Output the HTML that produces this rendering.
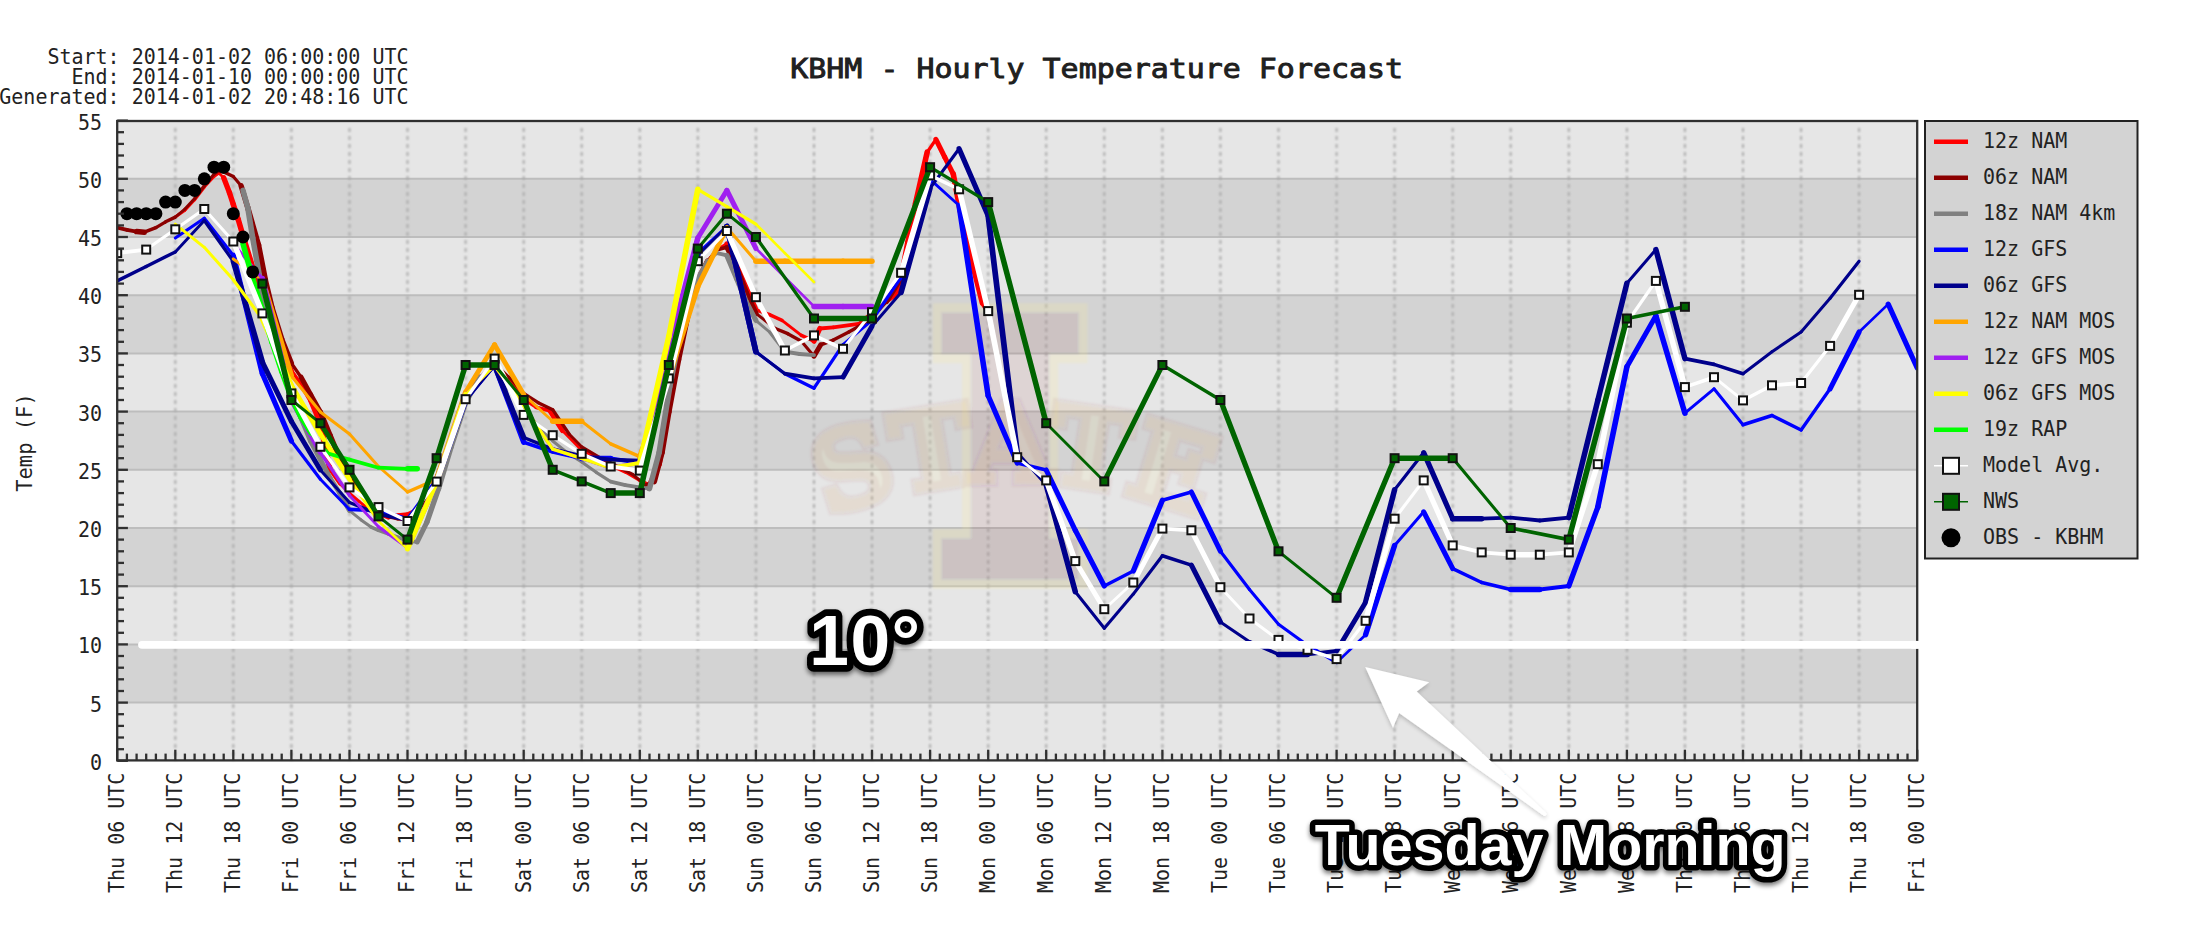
<!DOCTYPE html>
<html lang="en"><head><meta charset="utf-8"><title>KBHM - Hourly Temperature Forecast</title>
<style>
html,body{margin:0;padding:0;background:#fff;}
body{width:2194px;height:934px;overflow:hidden;}
svg{display:block;}
.m{font-family:"DejaVu Sans Mono","Liberation Mono",monospace;fill:#222;}
.s{font-family:"Liberation Sans",sans-serif;font-size:20px;fill:#111;}
.ann{font-family:"Liberation Sans",sans-serif;font-weight:bold;fill:#fff;stroke:#000;stroke-linejoin:round;paint-order:stroke fill;}
</style></head><body>
<svg width="2194" height="934" viewBox="0 0 2194 934">
<defs>
<filter id="sh" x="-10%" y="-20%" width="120%" height="150%"><feGaussianBlur in="SourceAlpha" stdDeviation="2.5"/><feOffset dx="0" dy="3" result="b"/><feComponentTransfer><feFuncA type="linear" slope="0.55"/></feComponentTransfer><feMerge><feMergeNode/><feMergeNode in="SourceGraphic"/></feMerge></filter>
<filter id="sh2" x="-20%" y="-20%" width="140%" height="150%"><feGaussianBlur in="SourceAlpha" stdDeviation="2"/><feOffset dx="0" dy="2" result="b"/><feComponentTransfer><feFuncA type="linear" slope="0.22"/></feComponentTransfer><feMerge><feMergeNode/><feMergeNode in="SourceGraphic"/></feMerge></filter>
<filter id="soft" x="-1%" y="-1%" width="102%" height="102%"><feGaussianBlur stdDeviation="0.8"/></filter>
<filter id="wm"><feGaussianBlur stdDeviation="1.2"/></filter>
<clipPath id="cp"><rect x="117.2" y="121.0" width="1800.0" height="639.4"/></clipPath>
</defs>
<rect width="2194" height="934" fill="#fff"/>

<g id="bands">
<rect x="117.2" y="702.6" width="1800.0" height="58.2" fill="#e6e6e6"/>
<rect x="117.2" y="644.4" width="1800.0" height="58.2" fill="#d3d3d3"/>
<rect x="117.2" y="586.2" width="1800.0" height="58.2" fill="#e6e6e6"/>
<rect x="117.2" y="528.0" width="1800.0" height="58.2" fill="#d3d3d3"/>
<rect x="117.2" y="469.8" width="1800.0" height="58.2" fill="#e6e6e6"/>
<rect x="117.2" y="411.6" width="1800.0" height="58.2" fill="#d3d3d3"/>
<rect x="117.2" y="353.4" width="1800.0" height="58.2" fill="#e6e6e6"/>
<rect x="117.2" y="295.2" width="1800.0" height="58.2" fill="#d3d3d3"/>
<rect x="117.2" y="237.0" width="1800.0" height="58.2" fill="#e6e6e6"/>
<rect x="117.2" y="178.8" width="1800.0" height="58.2" fill="#d3d3d3"/>
<rect x="117.2" y="120.6" width="1800.0" height="58.2" fill="#e6e6e6"/>
</g>
<g id="hgrid" stroke="#bdbdbd" stroke-width="2">
<line x1="117.2" x2="1917.2" y1="702.6" y2="702.6"/>
<line x1="117.2" x2="1917.2" y1="644.4" y2="644.4"/>
<line x1="117.2" x2="1917.2" y1="586.2" y2="586.2"/>
<line x1="117.2" x2="1917.2" y1="528.0" y2="528.0"/>
<line x1="117.2" x2="1917.2" y1="469.8" y2="469.8"/>
<line x1="117.2" x2="1917.2" y1="411.6" y2="411.6"/>
<line x1="117.2" x2="1917.2" y1="353.4" y2="353.4"/>
<line x1="117.2" x2="1917.2" y1="295.2" y2="295.2"/>
<line x1="117.2" x2="1917.2" y1="237.0" y2="237.0"/>
<line x1="117.2" x2="1917.2" y1="178.8" y2="178.8"/>
</g>
<g id="vgrid" stroke="#aaaaaa" stroke-width="2" stroke-dasharray="4 4" stroke-dashoffset="-1" filter="url(#soft)">
<line x1="175.3" x2="175.3" y1="127.0" y2="760.4"/>
<line x1="233.3" x2="233.3" y1="127.0" y2="760.4"/>
<line x1="291.4" x2="291.4" y1="127.0" y2="760.4"/>
<line x1="349.5" x2="349.5" y1="127.0" y2="760.4"/>
<line x1="407.5" x2="407.5" y1="127.0" y2="760.4"/>
<line x1="465.6" x2="465.6" y1="127.0" y2="760.4"/>
<line x1="523.7" x2="523.7" y1="127.0" y2="760.4"/>
<line x1="581.7" x2="581.7" y1="127.0" y2="760.4"/>
<line x1="639.8" x2="639.8" y1="127.0" y2="760.4"/>
<line x1="697.8" x2="697.8" y1="127.0" y2="760.4"/>
<line x1="755.9" x2="755.9" y1="127.0" y2="760.4"/>
<line x1="814.0" x2="814.0" y1="127.0" y2="760.4"/>
<line x1="872.0" x2="872.0" y1="127.0" y2="760.4"/>
<line x1="930.1" x2="930.1" y1="127.0" y2="760.4"/>
<line x1="988.2" x2="988.2" y1="127.0" y2="760.4"/>
<line x1="1046.2" x2="1046.2" y1="127.0" y2="760.4"/>
<line x1="1104.3" x2="1104.3" y1="127.0" y2="760.4"/>
<line x1="1162.4" x2="1162.4" y1="127.0" y2="760.4"/>
<line x1="1220.4" x2="1220.4" y1="127.0" y2="760.4"/>
<line x1="1278.5" x2="1278.5" y1="127.0" y2="760.4"/>
<line x1="1336.6" x2="1336.6" y1="127.0" y2="760.4"/>
<line x1="1394.6" x2="1394.6" y1="127.0" y2="760.4"/>
<line x1="1452.7" x2="1452.7" y1="127.0" y2="760.4"/>
<line x1="1510.7" x2="1510.7" y1="127.0" y2="760.4"/>
<line x1="1568.8" x2="1568.8" y1="127.0" y2="760.4"/>
<line x1="1626.9" x2="1626.9" y1="127.0" y2="760.4"/>
<line x1="1684.9" x2="1684.9" y1="127.0" y2="760.4"/>
<line x1="1743.0" x2="1743.0" y1="127.0" y2="760.4"/>
<line x1="1801.1" x2="1801.1" y1="127.0" y2="760.4"/>
<line x1="1859.1" x2="1859.1" y1="127.0" y2="760.4"/>
</g>
<g id="watermark" filter="url(#wm)" font-family='"DejaVu Serif","Liberation Serif",serif' font-weight="bold" stroke-linejoin="miter">
<mask id="mI" maskUnits="userSpaceOnUse" x="800" y="280" width="440" height="330"><rect x="800" y="280" width="440" height="330" fill="#fff"/><text transform="translate(1010,569) scale(0.93,1)" text-anchor="middle" font-size="337" fill="#000" stroke="#000" stroke-width="22">I</text></mask>
<g opacity="0.18" fill="#ffec8b" stroke="#ffec8b" stroke-width="40" mask="url(#mI)"><text transform="translate(1010,569) scale(0.93,1)" text-anchor="middle" font-size="337">I</text></g>
<g opacity="0.08" fill="#85102e" stroke="#85102e" stroke-width="22"><text transform="translate(1010,569) scale(0.93,1)" text-anchor="middle" font-size="337">I</text></g>
<path id="arc" d="M 826 517 Q 1012 445 1200 517" fill="none"/>
<g opacity="0.06" fill="none" stroke="#85102e" stroke-width="12"><text font-size="106" letter-spacing="-1"><textPath href="#arc" startOffset="50%" text-anchor="middle">STATE</textPath></text></g>
<g opacity="0.12" fill="#ffec8b" stroke="#ffec8b" stroke-width="5"><text font-size="106" letter-spacing="-1"><textPath href="#arc" startOffset="50%" text-anchor="middle">STATE</textPath></text></g>
</g>
<g id="series" clip-path="url(#cp)">
<g stroke="#ff0000" stroke-linecap="round" fill="none">
<line x1="175.3" y1="217.1" x2="184.9" y2="210.2" stroke-width="3.1"/>
<line x1="184.9" y1="210.2" x2="194.6" y2="199.7" stroke-width="2.9"/>
<line x1="194.6" y1="199.7" x2="204.3" y2="187.0" stroke-width="3.2"/>
<line x1="204.3" y1="187.0" x2="214.0" y2="176.5" stroke-width="2.9"/>
<line x1="214.0" y1="176.5" x2="218.8" y2="173.0" stroke-width="3.1"/>
<line x1="218.8" y1="173.0" x2="223.7" y2="177.7" stroke-width="2.7"/>
<line x1="223.7" y1="177.7" x2="229.5" y2="192.8" stroke-width="5.3"/>
<line x1="229.5" y1="192.8" x2="233.3" y2="204.4" stroke-width="5.4"/>
<line x1="233.3" y1="204.4" x2="238.2" y2="219.4" stroke-width="5.4"/>
<line x1="238.2" y1="219.4" x2="243.0" y2="235.7" stroke-width="5.5"/>
<line x1="243.0" y1="235.7" x2="252.7" y2="267.0" stroke-width="5.4"/>
<line x1="252.7" y1="267.0" x2="262.4" y2="296.0" stroke-width="5.4"/>
<line x1="262.4" y1="296.0" x2="272.0" y2="330.8" stroke-width="5.5"/>
<line x1="272.0" y1="330.8" x2="281.7" y2="355.2" stroke-width="5.3"/>
<line x1="281.7" y1="355.2" x2="291.4" y2="370.2" stroke-width="4.8"/>
<line x1="291.4" y1="370.2" x2="301.1" y2="384.2" stroke-width="3.3"/>
<line x1="301.1" y1="384.2" x2="310.7" y2="400.4" stroke-width="4.9"/>
<line x1="310.7" y1="400.4" x2="320.4" y2="423.6" stroke-width="5.3"/>
<line x1="320.4" y1="423.6" x2="330.1" y2="470.0" stroke-width="5.6"/>
<line x1="330.1" y1="470.0" x2="339.8" y2="483.9" stroke-width="3.3"/>
<line x1="339.8" y1="483.9" x2="349.5" y2="493.2" stroke-width="2.7"/>
<line x1="349.5" y1="493.2" x2="359.1" y2="501.3" stroke-width="2.9"/>
<line x1="359.1" y1="501.3" x2="368.8" y2="509.4" stroke-width="2.9"/>
<line x1="368.8" y1="509.4" x2="378.5" y2="514.1" stroke-width="3.4"/>
<line x1="378.5" y1="514.1" x2="388.2" y2="517.6" stroke-width="3.6"/>
<line x1="388.2" y1="517.6" x2="397.8" y2="515.2" stroke-width="3.7"/>
<line x1="397.8" y1="515.2" x2="407.5" y2="514.1" stroke-width="3.8"/>
<line x1="407.5" y1="514.1" x2="417.2" y2="509.4" stroke-width="3.4"/>
<line x1="417.2" y1="509.4" x2="426.9" y2="497.8" stroke-width="3.1"/>
<line x1="426.9" y1="497.8" x2="436.6" y2="479.3" stroke-width="5.1"/>
<line x1="436.6" y1="479.3" x2="451.1" y2="439.8" stroke-width="5.3"/>
<line x1="451.1" y1="439.8" x2="465.6" y2="400.4" stroke-width="5.3"/>
<line x1="465.6" y1="400.4" x2="480.1" y2="377.2" stroke-width="4.8"/>
<line x1="480.1" y1="377.2" x2="494.6" y2="363.3" stroke-width="2.7"/>
<line x1="494.6" y1="363.3" x2="509.1" y2="379.5" stroke-width="3.0"/>
<line x1="509.1" y1="379.5" x2="523.7" y2="399.2" stroke-width="3.2"/>
<line x1="523.7" y1="399.2" x2="536.2" y2="407.4" stroke-width="3.2"/>
<line x1="536.2" y1="407.4" x2="549.8" y2="410.8" stroke-width="3.7"/>
<line x1="549.8" y1="410.8" x2="562.4" y2="430.6" stroke-width="4.8"/>
<line x1="562.4" y1="430.6" x2="581.7" y2="450.3" stroke-width="2.9"/>
<line x1="581.7" y1="450.3" x2="601.1" y2="460.7" stroke-width="3.3"/>
<line x1="601.1" y1="460.7" x2="626.2" y2="472.3" stroke-width="3.5"/>
<line x1="626.2" y1="472.3" x2="639.8" y2="480.4" stroke-width="3.3"/>
<line x1="639.8" y1="480.4" x2="649.5" y2="485.1" stroke-width="3.4"/>
<line x1="649.5" y1="485.1" x2="659.1" y2="464.2" stroke-width="5.2"/>
<line x1="659.1" y1="464.2" x2="668.8" y2="406.2" stroke-width="5.6"/>
<line x1="668.8" y1="406.2" x2="678.5" y2="354.0" stroke-width="5.6"/>
<line x1="678.5" y1="354.0" x2="688.2" y2="313.4" stroke-width="5.5"/>
<line x1="688.2" y1="313.4" x2="697.8" y2="279.8" stroke-width="5.5"/>
<line x1="697.8" y1="279.8" x2="707.5" y2="261.2" stroke-width="5.1"/>
<line x1="707.5" y1="261.2" x2="717.2" y2="249.6" stroke-width="3.1"/>
<line x1="717.2" y1="249.6" x2="726.9" y2="243.8" stroke-width="3.3"/>
<line x1="726.9" y1="243.8" x2="736.6" y2="261.2" stroke-width="5.0"/>
<line x1="736.6" y1="261.2" x2="746.2" y2="286.7" stroke-width="5.3"/>
<line x1="746.2" y1="286.7" x2="755.9" y2="309.9" stroke-width="5.3"/>
<line x1="755.9" y1="309.9" x2="769.5" y2="314.6" stroke-width="3.6"/>
<line x1="769.5" y1="314.6" x2="782.0" y2="320.4" stroke-width="3.5"/>
<line x1="782.0" y1="320.4" x2="801.4" y2="335.4" stroke-width="3.0"/>
<line x1="801.4" y1="335.4" x2="814.0" y2="341.2" stroke-width="3.5"/>
<line x1="814.0" y1="341.2" x2="819.8" y2="328.5" stroke-width="5.2"/>
<line x1="819.8" y1="328.5" x2="833.3" y2="327.3" stroke-width="3.8"/>
<line x1="833.3" y1="327.3" x2="858.5" y2="323.8" stroke-width="3.8"/>
<line x1="858.5" y1="323.8" x2="872.0" y2="312.2" stroke-width="2.9"/>
<line x1="872.0" y1="312.2" x2="895.3" y2="296.0" stroke-width="3.1"/>
<line x1="895.3" y1="296.0" x2="901.1" y2="278.6" stroke-width="5.4"/>
<line x1="901.1" y1="278.6" x2="907.8" y2="242.6" stroke-width="5.6"/>
<line x1="907.8" y1="242.6" x2="915.6" y2="203.2" stroke-width="5.6"/>
<line x1="915.6" y1="203.2" x2="927.2" y2="152.2" stroke-width="5.6"/>
<line x1="927.2" y1="152.2" x2="935.9" y2="139.4" stroke-width="3.3"/>
<line x1="935.9" y1="139.4" x2="944.6" y2="156.8" stroke-width="5.1"/>
<line x1="944.6" y1="156.8" x2="953.3" y2="174.2" stroke-width="5.1"/>
<line x1="953.3" y1="174.2" x2="960.1" y2="210.2" stroke-width="5.6"/>
<line x1="960.1" y1="210.2" x2="972.7" y2="264.7" stroke-width="5.6"/>
<line x1="972.7" y1="264.7" x2="982.4" y2="303.0" stroke-width="5.5"/>
<line x1="982.4" y1="303.0" x2="988.2" y2="312.2" stroke-width="4.8"/>
</g>
<g stroke="#8b0000" stroke-linecap="round" fill="none">
<line x1="117.2" y1="227.6" x2="126.9" y2="229.9" stroke-width="3.7"/>
<line x1="126.9" y1="229.9" x2="136.6" y2="231.6" stroke-width="3.7"/>
<line x1="136.6" y1="231.6" x2="144.3" y2="232.2" stroke-width="5.5"/>
<line x1="144.3" y1="232.2" x2="155.9" y2="227.6" stroke-width="3.5"/>
<line x1="155.9" y1="227.6" x2="165.6" y2="221.8" stroke-width="3.3"/>
<line x1="165.6" y1="221.8" x2="175.3" y2="217.1" stroke-width="3.4"/>
<line x1="175.3" y1="217.1" x2="184.9" y2="209.0" stroke-width="2.9"/>
<line x1="184.9" y1="209.0" x2="194.6" y2="198.6" stroke-width="2.9"/>
<line x1="194.6" y1="198.6" x2="204.3" y2="185.8" stroke-width="3.2"/>
<line x1="204.3" y1="185.8" x2="214.0" y2="174.2" stroke-width="3.1"/>
<line x1="214.0" y1="174.2" x2="218.8" y2="170.7" stroke-width="3.1"/>
<line x1="218.8" y1="170.7" x2="223.7" y2="171.9" stroke-width="3.7"/>
<line x1="223.7" y1="171.9" x2="233.3" y2="176.5" stroke-width="3.4"/>
<line x1="233.3" y1="176.5" x2="241.1" y2="185.8" stroke-width="3.1"/>
<line x1="241.1" y1="185.8" x2="247.8" y2="207.8" stroke-width="5.4"/>
<line x1="247.8" y1="207.8" x2="258.5" y2="245.0" stroke-width="5.5"/>
<line x1="258.5" y1="245.0" x2="265.3" y2="279.8" stroke-width="5.6"/>
<line x1="265.3" y1="279.8" x2="272.0" y2="307.6" stroke-width="5.5"/>
<line x1="272.0" y1="307.6" x2="281.7" y2="338.9" stroke-width="5.4"/>
<line x1="281.7" y1="338.9" x2="291.4" y2="363.3" stroke-width="5.3"/>
<line x1="291.4" y1="363.3" x2="301.1" y2="377.2" stroke-width="3.3"/>
<line x1="301.1" y1="377.2" x2="310.7" y2="394.6" stroke-width="5.0"/>
<line x1="310.7" y1="394.6" x2="320.4" y2="412.0" stroke-width="5.0"/>
<line x1="320.4" y1="412.0" x2="330.1" y2="435.2" stroke-width="5.3"/>
<line x1="330.1" y1="435.2" x2="339.8" y2="458.4" stroke-width="5.3"/>
<line x1="339.8" y1="458.4" x2="349.5" y2="475.8" stroke-width="5.0"/>
<line x1="349.5" y1="475.8" x2="359.1" y2="489.7" stroke-width="3.3"/>
<line x1="359.1" y1="489.7" x2="368.8" y2="501.3" stroke-width="3.1"/>
<line x1="368.8" y1="501.3" x2="378.5" y2="510.6" stroke-width="2.7"/>
<line x1="378.5" y1="510.6" x2="388.2" y2="516.4" stroke-width="3.3"/>
<line x1="388.2" y1="516.4" x2="397.8" y2="518.7" stroke-width="3.7"/>
<line x1="397.8" y1="518.7" x2="407.5" y2="519.9" stroke-width="3.8"/>
<line x1="407.5" y1="519.9" x2="417.2" y2="511.8" stroke-width="2.9"/>
<line x1="417.2" y1="511.8" x2="426.9" y2="499.0" stroke-width="3.2"/>
<line x1="426.9" y1="499.0" x2="436.6" y2="481.6" stroke-width="5.0"/>
<line x1="436.6" y1="481.6" x2="451.1" y2="441.0" stroke-width="5.4"/>
<line x1="451.1" y1="441.0" x2="465.6" y2="400.4" stroke-width="5.4"/>
<line x1="465.6" y1="400.4" x2="480.1" y2="377.2" stroke-width="4.8"/>
<line x1="480.1" y1="377.2" x2="494.6" y2="363.3" stroke-width="2.7"/>
<line x1="494.6" y1="363.3" x2="509.1" y2="377.2" stroke-width="2.7"/>
<line x1="509.1" y1="377.2" x2="523.7" y2="393.4" stroke-width="3.0"/>
<line x1="523.7" y1="393.4" x2="538.2" y2="402.7" stroke-width="3.2"/>
<line x1="538.2" y1="402.7" x2="552.7" y2="409.7" stroke-width="3.4"/>
<line x1="552.7" y1="409.7" x2="569.1" y2="434.0" stroke-width="3.3"/>
<line x1="569.1" y1="434.0" x2="581.7" y2="446.8" stroke-width="2.8"/>
<line x1="581.7" y1="446.8" x2="601.1" y2="458.4" stroke-width="3.3"/>
<line x1="601.1" y1="458.4" x2="620.4" y2="467.7" stroke-width="3.4"/>
<line x1="620.4" y1="467.7" x2="633.0" y2="474.6" stroke-width="3.3"/>
<line x1="633.0" y1="474.6" x2="645.6" y2="485.1" stroke-width="2.9"/>
<line x1="645.6" y1="485.1" x2="654.3" y2="481.6" stroke-width="3.5"/>
<line x1="654.3" y1="481.6" x2="662.0" y2="452.6" stroke-width="5.5"/>
<line x1="662.0" y1="452.6" x2="668.8" y2="412.0" stroke-width="5.6"/>
<line x1="668.8" y1="412.0" x2="678.5" y2="359.8" stroke-width="5.6"/>
<line x1="678.5" y1="359.8" x2="688.2" y2="313.4" stroke-width="5.6"/>
<line x1="688.2" y1="313.4" x2="697.8" y2="280.9" stroke-width="5.5"/>
<line x1="697.8" y1="280.9" x2="707.5" y2="261.2" stroke-width="5.1"/>
<line x1="707.5" y1="261.2" x2="717.2" y2="249.6" stroke-width="3.1"/>
<line x1="717.2" y1="249.6" x2="726.9" y2="247.3" stroke-width="3.7"/>
<line x1="726.9" y1="247.3" x2="736.6" y2="267.0" stroke-width="5.1"/>
<line x1="736.6" y1="267.0" x2="746.2" y2="292.5" stroke-width="5.3"/>
<line x1="746.2" y1="292.5" x2="755.9" y2="313.4" stroke-width="5.2"/>
<line x1="755.9" y1="313.4" x2="775.3" y2="328.5" stroke-width="3.0"/>
<line x1="775.3" y1="328.5" x2="787.8" y2="333.7" stroke-width="3.5"/>
<line x1="787.8" y1="333.7" x2="801.4" y2="341.2" stroke-width="3.3"/>
<line x1="801.4" y1="341.2" x2="814.0" y2="356.3" stroke-width="3.1"/>
<line x1="814.0" y1="356.3" x2="820.7" y2="344.7" stroke-width="4.9"/>
<line x1="820.7" y1="344.7" x2="833.3" y2="340.1" stroke-width="3.6"/>
<line x1="833.3" y1="340.1" x2="848.8" y2="332.0" stroke-width="3.4"/>
<line x1="848.8" y1="332.0" x2="865.3" y2="322.7" stroke-width="3.3"/>
<line x1="865.3" y1="322.7" x2="872.0" y2="318.0" stroke-width="3.1"/>
<line x1="872.0" y1="318.0" x2="886.6" y2="301.8" stroke-width="3.0"/>
<line x1="886.6" y1="301.8" x2="901.1" y2="278.6" stroke-width="4.8"/>
<line x1="901.1" y1="278.6" x2="915.6" y2="226.4" stroke-width="5.5"/>
<line x1="915.6" y1="226.4" x2="930.1" y2="174.2" stroke-width="5.5"/>
</g>
<g stroke="#808080" stroke-linecap="round" fill="none">
<line x1="243.0" y1="190.4" x2="247.8" y2="207.8" stroke-width="5.5"/>
<line x1="247.8" y1="207.8" x2="252.7" y2="238.0" stroke-width="5.6"/>
<line x1="252.7" y1="238.0" x2="259.5" y2="276.3" stroke-width="5.6"/>
<line x1="259.5" y1="276.3" x2="262.4" y2="296.0" stroke-width="5.6"/>
<line x1="262.4" y1="296.0" x2="272.0" y2="335.4" stroke-width="5.5"/>
<line x1="272.0" y1="335.4" x2="281.7" y2="367.9" stroke-width="5.5"/>
<line x1="281.7" y1="367.9" x2="291.4" y2="394.6" stroke-width="5.4"/>
<line x1="291.4" y1="394.6" x2="301.1" y2="417.8" stroke-width="5.3"/>
<line x1="301.1" y1="417.8" x2="310.7" y2="441.0" stroke-width="5.3"/>
<line x1="310.7" y1="441.0" x2="320.4" y2="459.6" stroke-width="5.1"/>
<line x1="320.4" y1="459.6" x2="330.1" y2="478.1" stroke-width="5.1"/>
<line x1="330.1" y1="478.1" x2="339.8" y2="493.2" stroke-width="4.8"/>
<line x1="339.8" y1="493.2" x2="349.5" y2="510.6" stroke-width="5.0"/>
<line x1="349.5" y1="510.6" x2="361.1" y2="519.9" stroke-width="3.0"/>
<line x1="361.1" y1="519.9" x2="370.7" y2="526.8" stroke-width="3.1"/>
<line x1="370.7" y1="526.8" x2="378.5" y2="530.3" stroke-width="3.5"/>
<line x1="378.5" y1="530.3" x2="388.2" y2="533.8" stroke-width="3.6"/>
<line x1="388.2" y1="533.8" x2="397.8" y2="537.3" stroke-width="3.6"/>
<line x1="397.8" y1="537.3" x2="407.5" y2="540.8" stroke-width="3.6"/>
<line x1="407.5" y1="540.8" x2="417.2" y2="541.9" stroke-width="3.8"/>
<line x1="417.2" y1="541.9" x2="426.9" y2="522.2" stroke-width="5.1"/>
<line x1="426.9" y1="522.2" x2="438.5" y2="488.6" stroke-width="5.4"/>
<line x1="438.5" y1="488.6" x2="451.1" y2="446.8" stroke-width="5.5"/>
<line x1="451.1" y1="446.8" x2="465.6" y2="402.7" stroke-width="5.4"/>
<line x1="465.6" y1="402.7" x2="480.1" y2="377.2" stroke-width="5.0"/>
<line x1="480.1" y1="377.2" x2="494.6" y2="365.6" stroke-width="3.0"/>
<line x1="494.6" y1="365.6" x2="509.1" y2="388.8" stroke-width="4.8"/>
<line x1="509.1" y1="388.8" x2="523.7" y2="409.7" stroke-width="3.3"/>
<line x1="523.7" y1="409.7" x2="538.2" y2="427.1" stroke-width="3.1"/>
<line x1="538.2" y1="427.1" x2="552.7" y2="441.0" stroke-width="2.7"/>
<line x1="552.7" y1="441.0" x2="567.2" y2="452.6" stroke-width="3.0"/>
<line x1="567.2" y1="452.6" x2="581.7" y2="461.9" stroke-width="3.2"/>
<line x1="581.7" y1="461.9" x2="596.2" y2="472.3" stroke-width="3.1"/>
<line x1="596.2" y1="472.3" x2="610.7" y2="481.6" stroke-width="3.2"/>
<line x1="610.7" y1="481.6" x2="625.3" y2="485.1" stroke-width="3.7"/>
<line x1="625.3" y1="485.1" x2="639.8" y2="487.4" stroke-width="3.8"/>
<line x1="639.8" y1="487.4" x2="649.5" y2="488.6" stroke-width="3.8"/>
<line x1="649.5" y1="488.6" x2="659.1" y2="452.6" stroke-width="5.5"/>
<line x1="659.1" y1="452.6" x2="669.8" y2="386.5" stroke-width="5.6"/>
<line x1="669.8" y1="386.5" x2="678.5" y2="342.4" stroke-width="5.6"/>
<line x1="678.5" y1="342.4" x2="688.2" y2="301.8" stroke-width="5.5"/>
<line x1="688.2" y1="301.8" x2="697.8" y2="278.6" stroke-width="5.3"/>
<line x1="697.8" y1="278.6" x2="707.5" y2="261.2" stroke-width="5.0"/>
<line x1="707.5" y1="261.2" x2="717.2" y2="253.1" stroke-width="2.9"/>
<line x1="717.2" y1="253.1" x2="726.9" y2="255.4" stroke-width="3.7"/>
<line x1="726.9" y1="255.4" x2="736.6" y2="278.6" stroke-width="5.3"/>
<line x1="736.6" y1="278.6" x2="746.2" y2="301.8" stroke-width="5.3"/>
<line x1="746.2" y1="301.8" x2="755.9" y2="320.4" stroke-width="5.1"/>
<line x1="755.9" y1="320.4" x2="769.5" y2="332.0" stroke-width="2.9"/>
<line x1="769.5" y1="332.0" x2="784.9" y2="351.7" stroke-width="3.1"/>
<line x1="784.9" y1="351.7" x2="799.5" y2="354.0" stroke-width="3.8"/>
<line x1="799.5" y1="354.0" x2="814.0" y2="355.2" stroke-width="3.8"/>
</g>
<g stroke="#0000ff" stroke-linecap="round" fill="none">
<line x1="175.3" y1="238.0" x2="204.3" y2="218.3" stroke-width="3.1"/>
<line x1="204.3" y1="218.3" x2="233.3" y2="255.4" stroke-width="3.2"/>
<line x1="233.3" y1="255.4" x2="262.4" y2="373.7" stroke-width="5.5"/>
<line x1="262.4" y1="373.7" x2="291.4" y2="441.0" stroke-width="5.2"/>
<line x1="291.4" y1="441.0" x2="320.4" y2="479.3" stroke-width="3.2"/>
<line x1="320.4" y1="479.3" x2="349.5" y2="509.4" stroke-width="2.9"/>
<line x1="349.5" y1="509.4" x2="378.5" y2="510.6" stroke-width="3.8"/>
<line x1="378.5" y1="510.6" x2="407.5" y2="518.7" stroke-width="3.7"/>
<line x1="407.5" y1="518.7" x2="436.6" y2="479.3" stroke-width="3.2"/>
<line x1="436.6" y1="479.3" x2="465.6" y2="400.4" stroke-width="5.3"/>
<line x1="465.6" y1="400.4" x2="494.6" y2="365.6" stroke-width="3.1"/>
<line x1="494.6" y1="365.6" x2="523.7" y2="442.2" stroke-width="5.3"/>
<line x1="523.7" y1="442.2" x2="552.7" y2="452.0" stroke-width="3.6"/>
<line x1="552.7" y1="452.0" x2="581.7" y2="458.4" stroke-width="3.7"/>
<line x1="581.7" y1="458.4" x2="610.7" y2="458.4" stroke-width="5.5"/>
<line x1="610.7" y1="458.4" x2="639.8" y2="463.0" stroke-width="3.8"/>
<line x1="639.8" y1="463.0" x2="668.8" y2="371.4" stroke-width="5.4"/>
<line x1="668.8" y1="371.4" x2="697.8" y2="253.1" stroke-width="5.5"/>
<line x1="697.8" y1="253.1" x2="726.9" y2="226.4" stroke-width="2.8"/>
<line x1="726.9" y1="226.4" x2="755.9" y2="351.7" stroke-width="5.6"/>
<line x1="755.9" y1="351.7" x2="784.9" y2="373.7" stroke-width="3.0"/>
<line x1="784.9" y1="373.7" x2="814.0" y2="388.2" stroke-width="3.4"/>
<line x1="814.0" y1="388.2" x2="843.0" y2="344.7" stroke-width="3.3"/>
<line x1="843.0" y1="344.7" x2="872.0" y2="320.4" stroke-width="2.9"/>
<line x1="872.0" y1="320.4" x2="901.1" y2="277.4" stroke-width="3.3"/>
<line x1="901.1" y1="277.4" x2="930.1" y2="179.4" stroke-width="5.5"/>
<line x1="930.1" y1="179.4" x2="959.1" y2="205.5" stroke-width="2.8"/>
<line x1="959.1" y1="205.5" x2="988.2" y2="395.8" stroke-width="5.6"/>
<line x1="988.2" y1="395.8" x2="1017.2" y2="463.0" stroke-width="5.2"/>
<line x1="1017.2" y1="463.0" x2="1046.2" y2="470.0" stroke-width="3.7"/>
<line x1="1046.2" y1="470.0" x2="1075.3" y2="530.3" stroke-width="5.1"/>
<line x1="1075.3" y1="530.3" x2="1104.3" y2="586.0" stroke-width="5.1"/>
<line x1="1104.3" y1="586.0" x2="1133.3" y2="570.9" stroke-width="3.4"/>
<line x1="1133.3" y1="570.9" x2="1162.4" y2="500.2" stroke-width="5.3"/>
<line x1="1162.4" y1="500.2" x2="1191.4" y2="492.0" stroke-width="3.7"/>
<line x1="1191.4" y1="492.0" x2="1220.4" y2="551.2" stroke-width="5.1"/>
<line x1="1220.4" y1="551.2" x2="1249.5" y2="589.5" stroke-width="3.2"/>
<line x1="1249.5" y1="589.5" x2="1278.5" y2="624.3" stroke-width="3.1"/>
<line x1="1278.5" y1="624.3" x2="1307.5" y2="645.2" stroke-width="3.1"/>
<line x1="1307.5" y1="645.2" x2="1336.6" y2="662.6" stroke-width="3.3"/>
<line x1="1336.6" y1="662.6" x2="1365.6" y2="634.7" stroke-width="2.7"/>
<line x1="1365.6" y1="634.7" x2="1394.6" y2="545.4" stroke-width="5.4"/>
<line x1="1394.6" y1="545.4" x2="1423.7" y2="511.8" stroke-width="3.0"/>
<line x1="1423.7" y1="511.8" x2="1452.7" y2="568.6" stroke-width="5.1"/>
<line x1="1452.7" y1="568.6" x2="1481.7" y2="582.5" stroke-width="3.4"/>
<line x1="1481.7" y1="582.5" x2="1510.7" y2="589.5" stroke-width="3.7"/>
<line x1="1510.7" y1="589.5" x2="1539.8" y2="589.5" stroke-width="5.5"/>
<line x1="1539.8" y1="589.5" x2="1568.8" y2="586.0" stroke-width="3.8"/>
<line x1="1568.8" y1="586.0" x2="1597.8" y2="507.1" stroke-width="5.3"/>
<line x1="1597.8" y1="507.1" x2="1626.9" y2="366.8" stroke-width="5.6"/>
<line x1="1626.9" y1="366.8" x2="1655.9" y2="315.7" stroke-width="5.0"/>
<line x1="1655.9" y1="315.7" x2="1684.9" y2="413.2" stroke-width="5.5"/>
<line x1="1684.9" y1="413.2" x2="1714.0" y2="388.8" stroke-width="2.9"/>
<line x1="1714.0" y1="388.8" x2="1743.0" y2="424.8" stroke-width="3.1"/>
<line x1="1743.0" y1="424.8" x2="1772.0" y2="415.5" stroke-width="3.6"/>
<line x1="1772.0" y1="415.5" x2="1801.1" y2="430.0" stroke-width="3.4"/>
<line x1="1801.1" y1="430.0" x2="1830.1" y2="388.8" stroke-width="3.3"/>
<line x1="1830.1" y1="388.8" x2="1859.1" y2="332.0" stroke-width="5.1"/>
<line x1="1859.1" y1="332.0" x2="1888.2" y2="304.1" stroke-width="2.7"/>
<line x1="1888.2" y1="304.1" x2="1917.2" y2="367.9" stroke-width="5.2"/>
</g>
<g stroke="#00008b" stroke-linecap="round" fill="none">
<line x1="117.2" y1="280.9" x2="146.2" y2="266.4" stroke-width="3.4"/>
<line x1="146.2" y1="266.4" x2="175.3" y2="251.9" stroke-width="3.4"/>
<line x1="175.3" y1="251.9" x2="204.3" y2="220.6" stroke-width="2.9"/>
<line x1="204.3" y1="220.6" x2="233.3" y2="261.2" stroke-width="3.3"/>
<line x1="233.3" y1="261.2" x2="262.4" y2="362.1" stroke-width="5.5"/>
<line x1="262.4" y1="362.1" x2="291.4" y2="421.3" stroke-width="5.1"/>
<line x1="291.4" y1="421.3" x2="320.4" y2="470.0" stroke-width="4.9"/>
<line x1="320.4" y1="470.0" x2="349.5" y2="502.5" stroke-width="3.0"/>
<line x1="349.5" y1="502.5" x2="378.5" y2="514.1" stroke-width="3.5"/>
<line x1="378.5" y1="514.1" x2="407.5" y2="519.9" stroke-width="3.7"/>
<line x1="407.5" y1="519.9" x2="436.6" y2="481.6" stroke-width="3.2"/>
<line x1="436.6" y1="481.6" x2="465.6" y2="400.4" stroke-width="5.4"/>
<line x1="465.6" y1="400.4" x2="494.6" y2="365.6" stroke-width="3.1"/>
<line x1="494.6" y1="365.6" x2="523.7" y2="437.5" stroke-width="5.3"/>
<line x1="523.7" y1="437.5" x2="552.7" y2="449.1" stroke-width="3.5"/>
<line x1="552.7" y1="449.1" x2="581.7" y2="456.1" stroke-width="3.7"/>
<line x1="581.7" y1="456.1" x2="610.7" y2="459.6" stroke-width="3.8"/>
<line x1="610.7" y1="459.6" x2="639.8" y2="460.7" stroke-width="3.8"/>
<line x1="639.8" y1="460.7" x2="668.8" y2="377.2" stroke-width="5.4"/>
<line x1="668.8" y1="377.2" x2="697.8" y2="255.4" stroke-width="5.5"/>
<line x1="697.8" y1="255.4" x2="726.9" y2="226.4" stroke-width="2.7"/>
<line x1="726.9" y1="226.4" x2="755.9" y2="351.7" stroke-width="5.6"/>
<line x1="755.9" y1="351.7" x2="784.9" y2="373.7" stroke-width="3.0"/>
<line x1="784.9" y1="373.7" x2="814.0" y2="378.4" stroke-width="3.8"/>
<line x1="814.0" y1="378.4" x2="843.0" y2="377.2" stroke-width="3.8"/>
<line x1="843.0" y1="377.2" x2="872.0" y2="326.2" stroke-width="5.0"/>
<line x1="872.0" y1="326.2" x2="901.1" y2="292.5" stroke-width="3.0"/>
<line x1="901.1" y1="292.5" x2="930.1" y2="188.1" stroke-width="5.5"/>
<line x1="930.1" y1="188.1" x2="959.1" y2="148.7" stroke-width="3.2"/>
<line x1="959.1" y1="148.7" x2="988.2" y2="216.0" stroke-width="5.2"/>
<line x1="988.2" y1="216.0" x2="1017.2" y2="452.6" stroke-width="5.7"/>
<line x1="1017.2" y1="452.6" x2="1046.2" y2="485.1" stroke-width="3.0"/>
<line x1="1046.2" y1="485.1" x2="1075.3" y2="591.8" stroke-width="5.5"/>
<line x1="1075.3" y1="591.8" x2="1104.3" y2="628.3" stroke-width="3.1"/>
<line x1="1104.3" y1="628.3" x2="1133.3" y2="594.1" stroke-width="3.1"/>
<line x1="1133.3" y1="594.1" x2="1162.4" y2="555.8" stroke-width="3.2"/>
<line x1="1162.4" y1="555.8" x2="1191.4" y2="565.1" stroke-width="3.6"/>
<line x1="1191.4" y1="565.1" x2="1220.4" y2="622.0" stroke-width="5.1"/>
<line x1="1220.4" y1="622.0" x2="1249.5" y2="641.7" stroke-width="3.1"/>
<line x1="1249.5" y1="641.7" x2="1278.5" y2="654.4" stroke-width="3.5"/>
<line x1="1278.5" y1="654.4" x2="1307.5" y2="654.4" stroke-width="5.5"/>
<line x1="1307.5" y1="654.4" x2="1336.6" y2="651.0" stroke-width="3.8"/>
<line x1="1336.6" y1="651.0" x2="1365.6" y2="602.2" stroke-width="4.9"/>
<line x1="1365.6" y1="602.2" x2="1394.6" y2="489.7" stroke-width="5.5"/>
<line x1="1394.6" y1="489.7" x2="1423.7" y2="452.6" stroke-width="3.2"/>
<line x1="1423.7" y1="452.6" x2="1452.7" y2="518.7" stroke-width="5.2"/>
<line x1="1452.7" y1="518.7" x2="1481.7" y2="518.7" stroke-width="5.5"/>
<line x1="1481.7" y1="518.7" x2="1510.7" y2="517.6" stroke-width="3.8"/>
<line x1="1510.7" y1="517.6" x2="1539.8" y2="520.5" stroke-width="3.8"/>
<line x1="1539.8" y1="520.5" x2="1568.8" y2="517.6" stroke-width="3.8"/>
<line x1="1568.8" y1="517.6" x2="1597.8" y2="400.4" stroke-width="5.5"/>
<line x1="1597.8" y1="400.4" x2="1626.9" y2="283.2" stroke-width="5.5"/>
<line x1="1626.9" y1="283.2" x2="1655.9" y2="249.6" stroke-width="3.0"/>
<line x1="1655.9" y1="249.6" x2="1684.9" y2="358.6" stroke-width="5.5"/>
<line x1="1684.9" y1="358.6" x2="1714.0" y2="364.4" stroke-width="3.7"/>
<line x1="1714.0" y1="364.4" x2="1743.0" y2="373.7" stroke-width="3.6"/>
<line x1="1743.0" y1="373.7" x2="1772.0" y2="351.7" stroke-width="3.0"/>
<line x1="1772.0" y1="351.7" x2="1801.1" y2="332.0" stroke-width="3.1"/>
<line x1="1801.1" y1="332.0" x2="1830.1" y2="298.3" stroke-width="3.0"/>
<line x1="1830.1" y1="298.3" x2="1859.1" y2="261.2" stroke-width="3.2"/>
</g>
<g stroke="#ffa500" stroke-linecap="round" fill="none">
<line x1="233.3" y1="258.9" x2="262.4" y2="279.8" stroke-width="3.1"/>
<line x1="262.4" y1="279.8" x2="291.4" y2="376.0" stroke-width="5.5"/>
<line x1="291.4" y1="376.0" x2="320.4" y2="412.0" stroke-width="3.1"/>
<line x1="320.4" y1="412.0" x2="349.5" y2="434.0" stroke-width="3.0"/>
<line x1="349.5" y1="434.0" x2="378.5" y2="466.5" stroke-width="3.0"/>
<line x1="378.5" y1="466.5" x2="407.5" y2="492.0" stroke-width="2.9"/>
<line x1="407.5" y1="492.0" x2="436.6" y2="479.3" stroke-width="3.5"/>
<line x1="436.6" y1="479.3" x2="465.6" y2="392.3" stroke-width="5.4"/>
<line x1="465.6" y1="392.3" x2="494.6" y2="344.7" stroke-width="4.9"/>
<line x1="494.6" y1="344.7" x2="523.7" y2="394.6" stroke-width="4.9"/>
<line x1="523.7" y1="394.6" x2="552.7" y2="421.3" stroke-width="2.8"/>
<line x1="552.7" y1="421.3" x2="581.7" y2="421.3" stroke-width="5.5"/>
<line x1="581.7" y1="421.3" x2="610.7" y2="443.9" stroke-width="3.0"/>
<line x1="610.7" y1="443.9" x2="639.8" y2="456.7" stroke-width="3.5"/>
<line x1="639.8" y1="456.7" x2="668.8" y2="377.2" stroke-width="5.4"/>
<line x1="668.8" y1="377.2" x2="697.8" y2="286.7" stroke-width="5.4"/>
<line x1="697.8" y1="286.7" x2="726.9" y2="227.6" stroke-width="5.1"/>
<line x1="726.9" y1="227.6" x2="755.9" y2="261.2" stroke-width="3.0"/>
<line x1="755.9" y1="261.2" x2="784.9" y2="261.2" stroke-width="5.5"/>
<line x1="784.9" y1="261.2" x2="814.0" y2="261.2" stroke-width="5.5"/>
<line x1="814.0" y1="261.2" x2="843.0" y2="261.2" stroke-width="5.5"/>
<line x1="843.0" y1="261.2" x2="872.0" y2="261.2" stroke-width="5.5"/>
</g>
<g stroke="#a020f0" stroke-linecap="round" fill="none">
<line x1="233.3" y1="243.8" x2="262.4" y2="278.6" stroke-width="3.1"/>
<line x1="262.4" y1="278.6" x2="291.4" y2="400.4" stroke-width="5.5"/>
<line x1="291.4" y1="400.4" x2="320.4" y2="452.6" stroke-width="5.0"/>
<line x1="320.4" y1="452.6" x2="349.5" y2="495.5" stroke-width="3.3"/>
<line x1="349.5" y1="495.5" x2="378.5" y2="526.8" stroke-width="2.9"/>
<line x1="378.5" y1="526.8" x2="407.5" y2="547.7" stroke-width="3.1"/>
<line x1="407.5" y1="547.7" x2="436.6" y2="481.6" stroke-width="5.2"/>
<line x1="436.6" y1="481.6" x2="465.6" y2="394.6" stroke-width="5.4"/>
<line x1="465.6" y1="394.6" x2="494.6" y2="365.6" stroke-width="2.7"/>
<line x1="494.6" y1="365.6" x2="523.7" y2="406.2" stroke-width="3.3"/>
<line x1="523.7" y1="406.2" x2="552.7" y2="449.1" stroke-width="3.3"/>
<line x1="552.7" y1="449.1" x2="581.7" y2="458.4" stroke-width="3.6"/>
<line x1="581.7" y1="458.4" x2="610.7" y2="467.7" stroke-width="3.6"/>
<line x1="610.7" y1="467.7" x2="639.8" y2="463.0" stroke-width="3.8"/>
<line x1="639.8" y1="463.0" x2="668.8" y2="348.2" stroke-width="5.5"/>
<line x1="668.8" y1="348.2" x2="697.8" y2="238.0" stroke-width="5.5"/>
<line x1="697.8" y1="238.0" x2="726.9" y2="190.4" stroke-width="4.9"/>
<line x1="726.9" y1="190.4" x2="755.9" y2="248.4" stroke-width="5.1"/>
<line x1="755.9" y1="248.4" x2="784.9" y2="277.4" stroke-width="2.7"/>
<line x1="784.9" y1="277.4" x2="814.0" y2="306.4" stroke-width="2.7"/>
<line x1="814.0" y1="306.4" x2="843.0" y2="306.4" stroke-width="5.5"/>
<line x1="843.0" y1="306.4" x2="872.0" y2="306.4" stroke-width="5.5"/>
</g>
<g stroke="#ffff00" stroke-linecap="round" fill="none">
<line x1="175.3" y1="224.1" x2="204.3" y2="247.3" stroke-width="3.0"/>
<line x1="204.3" y1="247.3" x2="233.3" y2="279.8" stroke-width="3.0"/>
<line x1="233.3" y1="279.8" x2="262.4" y2="319.2" stroke-width="3.2"/>
<line x1="262.4" y1="319.2" x2="291.4" y2="385.3" stroke-width="5.2"/>
<line x1="291.4" y1="385.3" x2="320.4" y2="434.0" stroke-width="4.9"/>
<line x1="320.4" y1="434.0" x2="349.5" y2="479.3" stroke-width="4.8"/>
<line x1="349.5" y1="479.3" x2="378.5" y2="521.0" stroke-width="3.3"/>
<line x1="378.5" y1="521.0" x2="407.5" y2="548.9" stroke-width="2.7"/>
<line x1="407.5" y1="548.9" x2="436.6" y2="481.6" stroke-width="5.2"/>
<line x1="436.6" y1="481.6" x2="465.6" y2="394.6" stroke-width="5.4"/>
<line x1="465.6" y1="394.6" x2="494.6" y2="365.6" stroke-width="2.7"/>
<line x1="494.6" y1="365.6" x2="523.7" y2="406.2" stroke-width="3.3"/>
<line x1="523.7" y1="406.2" x2="552.7" y2="449.1" stroke-width="3.3"/>
<line x1="552.7" y1="449.1" x2="581.7" y2="458.4" stroke-width="3.6"/>
<line x1="581.7" y1="458.4" x2="610.7" y2="467.7" stroke-width="3.6"/>
<line x1="610.7" y1="467.7" x2="639.8" y2="463.0" stroke-width="3.8"/>
<line x1="639.8" y1="463.0" x2="668.8" y2="336.6" stroke-width="5.6"/>
<line x1="668.8" y1="336.6" x2="697.8" y2="189.3" stroke-width="5.6"/>
<line x1="697.8" y1="189.3" x2="726.9" y2="206.7" stroke-width="3.3"/>
<line x1="726.9" y1="206.7" x2="755.9" y2="224.1" stroke-width="3.3"/>
<line x1="755.9" y1="224.1" x2="784.9" y2="253.1" stroke-width="2.7"/>
<line x1="784.9" y1="253.1" x2="814.0" y2="282.1" stroke-width="2.7"/>
</g>
<g stroke="#00ff00" stroke-linecap="round" fill="none">
<line x1="243.0" y1="243.8" x2="252.7" y2="278.6" stroke-width="5.5"/>
<line x1="252.7" y1="278.6" x2="262.4" y2="309.9" stroke-width="5.4"/>
<line x1="262.4" y1="309.9" x2="272.0" y2="342.4" stroke-width="5.5"/>
<line x1="272.0" y1="342.4" x2="281.7" y2="371.4" stroke-width="5.4"/>
<line x1="281.7" y1="371.4" x2="291.4" y2="398.1" stroke-width="5.4"/>
<line x1="291.4" y1="398.1" x2="301.1" y2="417.8" stroke-width="5.1"/>
<line x1="301.1" y1="417.8" x2="310.7" y2="432.9" stroke-width="4.8"/>
<line x1="310.7" y1="432.9" x2="320.4" y2="444.5" stroke-width="3.1"/>
<line x1="320.4" y1="444.5" x2="329.1" y2="453.8" stroke-width="2.9"/>
<line x1="329.1" y1="453.8" x2="349.5" y2="459.6" stroke-width="3.7"/>
<line x1="349.5" y1="459.6" x2="378.5" y2="467.7" stroke-width="3.7"/>
<line x1="378.5" y1="467.7" x2="407.5" y2="468.8" stroke-width="3.8"/>
<line x1="407.5" y1="468.8" x2="417.2" y2="468.8" stroke-width="5.5"/>
</g>
<g stroke="#ffffff" stroke-linecap="round" fill="none">
<line x1="117.2" y1="253.1" x2="146.2" y2="249.6" stroke-width="3.8"/>
<line x1="146.2" y1="249.6" x2="175.3" y2="229.3" stroke-width="3.1"/>
<line x1="175.3" y1="229.3" x2="204.3" y2="209.0" stroke-width="3.1"/>
<line x1="204.3" y1="209.0" x2="233.3" y2="241.5" stroke-width="3.0"/>
<line x1="233.3" y1="241.5" x2="262.4" y2="313.4" stroke-width="5.3"/>
<line x1="262.4" y1="313.4" x2="291.4" y2="393.4" stroke-width="5.4"/>
<line x1="291.4" y1="393.4" x2="320.4" y2="446.8" stroke-width="5.0"/>
<line x1="320.4" y1="446.8" x2="349.5" y2="487.4" stroke-width="3.3"/>
<line x1="349.5" y1="487.4" x2="378.5" y2="507.1" stroke-width="3.1"/>
<line x1="378.5" y1="507.1" x2="407.5" y2="521.0" stroke-width="3.4"/>
<line x1="407.5" y1="521.0" x2="436.6" y2="481.6" stroke-width="3.2"/>
<line x1="436.6" y1="481.6" x2="465.6" y2="399.2" stroke-width="5.4"/>
<line x1="465.6" y1="399.2" x2="494.6" y2="358.6" stroke-width="3.3"/>
<line x1="494.6" y1="358.6" x2="523.7" y2="414.9" stroke-width="5.1"/>
<line x1="523.7" y1="414.9" x2="552.7" y2="435.2" stroke-width="3.1"/>
<line x1="552.7" y1="435.2" x2="581.7" y2="453.8" stroke-width="3.2"/>
<line x1="581.7" y1="453.8" x2="610.7" y2="466.5" stroke-width="3.5"/>
<line x1="610.7" y1="466.5" x2="639.8" y2="470.6" stroke-width="3.8"/>
<line x1="639.8" y1="470.6" x2="668.8" y2="378.4" stroke-width="5.4"/>
<line x1="668.8" y1="378.4" x2="697.8" y2="261.2" stroke-width="5.5"/>
<line x1="697.8" y1="261.2" x2="726.9" y2="231.0" stroke-width="2.9"/>
<line x1="726.9" y1="231.0" x2="755.9" y2="297.2" stroke-width="5.2"/>
<line x1="755.9" y1="297.2" x2="784.9" y2="350.5" stroke-width="5.0"/>
<line x1="784.9" y1="350.5" x2="814.0" y2="335.4" stroke-width="3.4"/>
<line x1="814.0" y1="335.4" x2="843.0" y2="348.8" stroke-width="3.5"/>
<line x1="843.0" y1="348.8" x2="872.0" y2="312.2" stroke-width="3.1"/>
<line x1="872.0" y1="312.2" x2="901.1" y2="272.8" stroke-width="3.2"/>
<line x1="901.1" y1="272.8" x2="930.1" y2="175.4" stroke-width="5.5"/>
<line x1="930.1" y1="175.4" x2="959.1" y2="189.3" stroke-width="3.4"/>
<line x1="959.1" y1="189.3" x2="988.2" y2="311.1" stroke-width="5.5"/>
<line x1="988.2" y1="311.1" x2="1017.2" y2="457.2" stroke-width="5.6"/>
<line x1="1017.2" y1="457.2" x2="1046.2" y2="480.4" stroke-width="3.0"/>
<line x1="1046.2" y1="480.4" x2="1075.3" y2="561.1" stroke-width="5.4"/>
<line x1="1075.3" y1="561.1" x2="1104.3" y2="609.2" stroke-width="4.9"/>
<line x1="1104.3" y1="609.2" x2="1133.3" y2="582.5" stroke-width="2.8"/>
<line x1="1133.3" y1="582.5" x2="1162.4" y2="528.6" stroke-width="5.0"/>
<line x1="1162.4" y1="528.6" x2="1191.4" y2="530.3" stroke-width="3.8"/>
<line x1="1191.4" y1="530.3" x2="1220.4" y2="587.2" stroke-width="5.1"/>
<line x1="1220.4" y1="587.2" x2="1249.5" y2="618.5" stroke-width="2.9"/>
<line x1="1249.5" y1="618.5" x2="1278.5" y2="639.9" stroke-width="3.1"/>
<line x1="1278.5" y1="639.9" x2="1307.5" y2="649.8" stroke-width="3.6"/>
<line x1="1307.5" y1="649.8" x2="1336.6" y2="659.1" stroke-width="3.6"/>
<line x1="1336.6" y1="659.1" x2="1365.6" y2="620.8" stroke-width="3.2"/>
<line x1="1365.6" y1="620.8" x2="1394.6" y2="518.7" stroke-width="5.5"/>
<line x1="1394.6" y1="518.7" x2="1423.7" y2="480.4" stroke-width="3.2"/>
<line x1="1423.7" y1="480.4" x2="1452.7" y2="545.4" stroke-width="5.2"/>
<line x1="1452.7" y1="545.4" x2="1481.7" y2="552.4" stroke-width="3.7"/>
<line x1="1481.7" y1="552.4" x2="1510.7" y2="554.7" stroke-width="3.8"/>
<line x1="1510.7" y1="554.7" x2="1539.8" y2="554.7" stroke-width="5.5"/>
<line x1="1539.8" y1="554.7" x2="1568.8" y2="552.4" stroke-width="3.8"/>
<line x1="1568.8" y1="552.4" x2="1597.8" y2="464.2" stroke-width="5.4"/>
<line x1="1597.8" y1="464.2" x2="1626.9" y2="322.7" stroke-width="5.6"/>
<line x1="1626.9" y1="322.7" x2="1655.9" y2="280.9" stroke-width="3.3"/>
<line x1="1655.9" y1="280.9" x2="1684.9" y2="387.1" stroke-width="5.5"/>
<line x1="1684.9" y1="387.1" x2="1714.0" y2="377.2" stroke-width="3.6"/>
<line x1="1714.0" y1="377.2" x2="1743.0" y2="400.4" stroke-width="3.0"/>
<line x1="1743.0" y1="400.4" x2="1772.0" y2="385.3" stroke-width="3.4"/>
<line x1="1772.0" y1="385.3" x2="1801.1" y2="383.0" stroke-width="3.8"/>
<line x1="1801.1" y1="383.0" x2="1830.1" y2="345.9" stroke-width="3.2"/>
<line x1="1830.1" y1="345.9" x2="1859.1" y2="294.8" stroke-width="5.0"/>
</g>
<g fill="#fff" stroke="#111" stroke-width="2">
<rect x="113.2" y="249.1" width="8" height="8"/>
<rect x="142.2" y="245.6" width="8" height="8"/>
<rect x="171.3" y="225.3" width="8" height="8"/>
<rect x="200.3" y="205.0" width="8" height="8"/>
<rect x="229.3" y="237.5" width="8" height="8"/>
<rect x="258.4" y="309.4" width="8" height="8"/>
<rect x="287.4" y="389.4" width="8" height="8"/>
<rect x="316.4" y="442.8" width="8" height="8"/>
<rect x="345.5" y="483.4" width="8" height="8"/>
<rect x="374.5" y="503.1" width="8" height="8"/>
<rect x="403.5" y="517.0" width="8" height="8"/>
<rect x="432.6" y="477.6" width="8" height="8"/>
<rect x="461.6" y="395.2" width="8" height="8"/>
<rect x="490.6" y="354.6" width="8" height="8"/>
<rect x="519.7" y="410.9" width="8" height="8"/>
<rect x="548.7" y="431.2" width="8" height="8"/>
<rect x="577.7" y="449.8" width="8" height="8"/>
<rect x="606.7" y="462.5" width="8" height="8"/>
<rect x="635.8" y="466.6" width="8" height="8"/>
<rect x="664.8" y="374.4" width="8" height="8"/>
<rect x="693.8" y="257.2" width="8" height="8"/>
<rect x="722.9" y="227.0" width="8" height="8"/>
<rect x="751.9" y="293.2" width="8" height="8"/>
<rect x="780.9" y="346.5" width="8" height="8"/>
<rect x="810.0" y="331.4" width="8" height="8"/>
<rect x="839.0" y="344.8" width="8" height="8"/>
<rect x="868.0" y="308.2" width="8" height="8"/>
<rect x="897.1" y="268.8" width="8" height="8"/>
<rect x="926.1" y="171.4" width="8" height="8"/>
<rect x="955.1" y="185.3" width="8" height="8"/>
<rect x="984.2" y="307.1" width="8" height="8"/>
<rect x="1013.2" y="453.2" width="8" height="8"/>
<rect x="1042.2" y="476.4" width="8" height="8"/>
<rect x="1071.3" y="557.1" width="8" height="8"/>
<rect x="1100.3" y="605.2" width="8" height="8"/>
<rect x="1129.3" y="578.5" width="8" height="8"/>
<rect x="1158.4" y="524.6" width="8" height="8"/>
<rect x="1187.4" y="526.3" width="8" height="8"/>
<rect x="1216.4" y="583.2" width="8" height="8"/>
<rect x="1245.5" y="614.5" width="8" height="8"/>
<rect x="1274.5" y="635.9" width="8" height="8"/>
<rect x="1303.5" y="645.8" width="8" height="8"/>
<rect x="1332.6" y="655.1" width="8" height="8"/>
<rect x="1361.6" y="616.8" width="8" height="8"/>
<rect x="1390.6" y="514.7" width="8" height="8"/>
<rect x="1419.7" y="476.4" width="8" height="8"/>
<rect x="1448.7" y="541.4" width="8" height="8"/>
<rect x="1477.7" y="548.4" width="8" height="8"/>
<rect x="1506.7" y="550.7" width="8" height="8"/>
<rect x="1535.8" y="550.7" width="8" height="8"/>
<rect x="1564.8" y="548.4" width="8" height="8"/>
<rect x="1593.8" y="460.2" width="8" height="8"/>
<rect x="1622.9" y="318.7" width="8" height="8"/>
<rect x="1651.9" y="276.9" width="8" height="8"/>
<rect x="1680.9" y="383.1" width="8" height="8"/>
<rect x="1710.0" y="373.2" width="8" height="8"/>
<rect x="1739.0" y="396.4" width="8" height="8"/>
<rect x="1768.0" y="381.3" width="8" height="8"/>
<rect x="1797.1" y="379.0" width="8" height="8"/>
<rect x="1826.1" y="341.9" width="8" height="8"/>
<rect x="1855.1" y="290.8" width="8" height="8"/>
</g>
<g stroke="#006400" stroke-linecap="round" fill="none">
<line x1="262.4" y1="283.6" x2="291.4" y2="400.0" stroke-width="5.5"/>
<line x1="291.4" y1="400.0" x2="320.4" y2="423.2" stroke-width="3.0"/>
<line x1="320.4" y1="423.2" x2="349.5" y2="469.8" stroke-width="4.8"/>
<line x1="349.5" y1="469.8" x2="378.5" y2="516.4" stroke-width="4.8"/>
<line x1="378.5" y1="516.4" x2="407.5" y2="539.6" stroke-width="3.0"/>
<line x1="407.5" y1="539.6" x2="436.6" y2="458.2" stroke-width="5.4"/>
<line x1="436.6" y1="458.2" x2="465.6" y2="365.0" stroke-width="5.4"/>
<line x1="465.6" y1="365.0" x2="494.6" y2="365.0" stroke-width="5.5"/>
<line x1="494.6" y1="365.0" x2="523.7" y2="400.0" stroke-width="3.1"/>
<line x1="523.7" y1="400.0" x2="552.7" y2="469.8" stroke-width="5.3"/>
<line x1="552.7" y1="469.8" x2="581.7" y2="481.4" stroke-width="3.5"/>
<line x1="581.7" y1="481.4" x2="610.7" y2="493.1" stroke-width="3.5"/>
<line x1="610.7" y1="493.1" x2="639.8" y2="493.1" stroke-width="5.5"/>
<line x1="639.8" y1="493.1" x2="668.8" y2="365.0" stroke-width="5.6"/>
<line x1="668.8" y1="365.0" x2="697.8" y2="248.6" stroke-width="5.5"/>
<line x1="697.8" y1="248.6" x2="726.9" y2="213.7" stroke-width="3.1"/>
<line x1="726.9" y1="213.7" x2="755.9" y2="237.0" stroke-width="3.0"/>
<line x1="755.9" y1="237.0" x2="814.0" y2="318.5" stroke-width="3.3"/>
<line x1="814.0" y1="318.5" x2="872.0" y2="318.5" stroke-width="5.5"/>
<line x1="872.0" y1="318.5" x2="930.1" y2="167.2" stroke-width="5.3"/>
<line x1="930.1" y1="167.2" x2="988.2" y2="202.1" stroke-width="3.3"/>
<line x1="988.2" y1="202.1" x2="1046.2" y2="423.2" stroke-width="5.5"/>
<line x1="1046.2" y1="423.2" x2="1104.3" y2="481.4" stroke-width="2.8"/>
<line x1="1104.3" y1="481.4" x2="1162.4" y2="365.0" stroke-width="5.1"/>
<line x1="1162.4" y1="365.0" x2="1220.4" y2="400.0" stroke-width="3.3"/>
<line x1="1220.4" y1="400.0" x2="1278.5" y2="551.3" stroke-width="5.3"/>
<line x1="1278.5" y1="551.3" x2="1336.6" y2="597.8" stroke-width="3.0"/>
<line x1="1336.6" y1="597.8" x2="1394.6" y2="458.2" stroke-width="5.3"/>
<line x1="1394.6" y1="458.2" x2="1452.7" y2="458.2" stroke-width="5.5"/>
<line x1="1452.7" y1="458.2" x2="1510.7" y2="528.0" stroke-width="3.1"/>
<line x1="1510.7" y1="528.0" x2="1568.8" y2="539.6" stroke-width="3.7"/>
<line x1="1568.8" y1="539.6" x2="1626.9" y2="318.5" stroke-width="5.5"/>
<line x1="1626.9" y1="318.5" x2="1684.9" y2="306.8" stroke-width="3.7"/>
</g>
<g fill="#006400" stroke="#111" stroke-width="2">
<rect x="258.4" y="279.6" width="8" height="8"/>
<rect x="287.4" y="396.0" width="8" height="8"/>
<rect x="316.4" y="419.2" width="8" height="8"/>
<rect x="345.5" y="465.8" width="8" height="8"/>
<rect x="374.5" y="512.4" width="8" height="8"/>
<rect x="403.5" y="535.6" width="8" height="8"/>
<rect x="432.6" y="454.2" width="8" height="8"/>
<rect x="461.6" y="361.0" width="8" height="8"/>
<rect x="490.6" y="361.0" width="8" height="8"/>
<rect x="519.7" y="396.0" width="8" height="8"/>
<rect x="548.7" y="465.8" width="8" height="8"/>
<rect x="577.7" y="477.4" width="8" height="8"/>
<rect x="606.7" y="489.1" width="8" height="8"/>
<rect x="635.8" y="489.1" width="8" height="8"/>
<rect x="664.8" y="361.0" width="8" height="8"/>
<rect x="693.8" y="244.6" width="8" height="8"/>
<rect x="722.9" y="209.7" width="8" height="8"/>
<rect x="751.9" y="233.0" width="8" height="8"/>
<rect x="810.0" y="314.5" width="8" height="8"/>
<rect x="868.0" y="314.5" width="8" height="8"/>
<rect x="926.1" y="163.2" width="8" height="8"/>
<rect x="984.2" y="198.1" width="8" height="8"/>
<rect x="1042.2" y="419.2" width="8" height="8"/>
<rect x="1100.3" y="477.4" width="8" height="8"/>
<rect x="1158.4" y="361.0" width="8" height="8"/>
<rect x="1216.4" y="396.0" width="8" height="8"/>
<rect x="1274.5" y="547.3" width="8" height="8"/>
<rect x="1332.6" y="593.8" width="8" height="8"/>
<rect x="1390.6" y="454.2" width="8" height="8"/>
<rect x="1448.7" y="454.2" width="8" height="8"/>
<rect x="1506.7" y="524.0" width="8" height="8"/>
<rect x="1564.8" y="535.6" width="8" height="8"/>
<rect x="1622.9" y="314.5" width="8" height="8"/>
<rect x="1680.9" y="302.8" width="8" height="8"/>
</g>
<g fill="#000">
<circle cx="126.9" cy="213.7" r="6.5"/>
<circle cx="136.6" cy="213.7" r="6.5"/>
<circle cx="146.2" cy="213.7" r="6.5"/>
<circle cx="155.9" cy="213.7" r="6.5"/>
<circle cx="165.6" cy="202.1" r="6.5"/>
<circle cx="175.3" cy="202.1" r="6.5"/>
<circle cx="184.9" cy="190.4" r="6.5"/>
<circle cx="194.6" cy="190.4" r="6.5"/>
<circle cx="204.3" cy="178.8" r="6.5"/>
<circle cx="214.0" cy="167.2" r="6.5"/>
<circle cx="223.7" cy="167.2" r="6.5"/>
<circle cx="233.3" cy="213.7" r="6.5"/>
<circle cx="243.0" cy="237.0" r="6.5"/>
<circle cx="252.7" cy="271.9" r="6.5"/>
</g>
</g>
<g id="axes" stroke="#303030" stroke-width="2.3" fill="none">
<rect x="117.2" y="121.0" width="1800.0" height="639.4"/>
<line x1="117.2" x2="117.2" y1="760.4" y2="749.6999999999999"/>
<line x1="126.9" x2="126.9" y1="760.4" y2="753.6"/>
<line x1="136.6" x2="136.6" y1="760.4" y2="753.6"/>
<line x1="146.2" x2="146.2" y1="760.4" y2="753.6"/>
<line x1="155.9" x2="155.9" y1="760.4" y2="753.6"/>
<line x1="165.6" x2="165.6" y1="760.4" y2="753.6"/>
<line x1="175.3" x2="175.3" y1="760.4" y2="749.6999999999999"/>
<line x1="184.9" x2="184.9" y1="760.4" y2="753.6"/>
<line x1="194.6" x2="194.6" y1="760.4" y2="753.6"/>
<line x1="204.3" x2="204.3" y1="760.4" y2="753.6"/>
<line x1="214.0" x2="214.0" y1="760.4" y2="753.6"/>
<line x1="223.7" x2="223.7" y1="760.4" y2="753.6"/>
<line x1="233.3" x2="233.3" y1="760.4" y2="749.6999999999999"/>
<line x1="243.0" x2="243.0" y1="760.4" y2="753.6"/>
<line x1="252.7" x2="252.7" y1="760.4" y2="753.6"/>
<line x1="262.4" x2="262.4" y1="760.4" y2="753.6"/>
<line x1="272.0" x2="272.0" y1="760.4" y2="753.6"/>
<line x1="281.7" x2="281.7" y1="760.4" y2="753.6"/>
<line x1="291.4" x2="291.4" y1="760.4" y2="749.6999999999999"/>
<line x1="301.1" x2="301.1" y1="760.4" y2="753.6"/>
<line x1="310.7" x2="310.7" y1="760.4" y2="753.6"/>
<line x1="320.4" x2="320.4" y1="760.4" y2="753.6"/>
<line x1="330.1" x2="330.1" y1="760.4" y2="753.6"/>
<line x1="339.8" x2="339.8" y1="760.4" y2="753.6"/>
<line x1="349.5" x2="349.5" y1="760.4" y2="749.6999999999999"/>
<line x1="359.1" x2="359.1" y1="760.4" y2="753.6"/>
<line x1="368.8" x2="368.8" y1="760.4" y2="753.6"/>
<line x1="378.5" x2="378.5" y1="760.4" y2="753.6"/>
<line x1="388.2" x2="388.2" y1="760.4" y2="753.6"/>
<line x1="397.8" x2="397.8" y1="760.4" y2="753.6"/>
<line x1="407.5" x2="407.5" y1="760.4" y2="749.6999999999999"/>
<line x1="417.2" x2="417.2" y1="760.4" y2="753.6"/>
<line x1="426.9" x2="426.9" y1="760.4" y2="753.6"/>
<line x1="436.6" x2="436.6" y1="760.4" y2="753.6"/>
<line x1="446.2" x2="446.2" y1="760.4" y2="753.6"/>
<line x1="455.9" x2="455.9" y1="760.4" y2="753.6"/>
<line x1="465.6" x2="465.6" y1="760.4" y2="749.6999999999999"/>
<line x1="475.3" x2="475.3" y1="760.4" y2="753.6"/>
<line x1="484.9" x2="484.9" y1="760.4" y2="753.6"/>
<line x1="494.6" x2="494.6" y1="760.4" y2="753.6"/>
<line x1="504.3" x2="504.3" y1="760.4" y2="753.6"/>
<line x1="514.0" x2="514.0" y1="760.4" y2="753.6"/>
<line x1="523.7" x2="523.7" y1="760.4" y2="749.6999999999999"/>
<line x1="533.3" x2="533.3" y1="760.4" y2="753.6"/>
<line x1="543.0" x2="543.0" y1="760.4" y2="753.6"/>
<line x1="552.7" x2="552.7" y1="760.4" y2="753.6"/>
<line x1="562.4" x2="562.4" y1="760.4" y2="753.6"/>
<line x1="572.0" x2="572.0" y1="760.4" y2="753.6"/>
<line x1="581.7" x2="581.7" y1="760.4" y2="749.6999999999999"/>
<line x1="591.4" x2="591.4" y1="760.4" y2="753.6"/>
<line x1="601.1" x2="601.1" y1="760.4" y2="753.6"/>
<line x1="610.7" x2="610.7" y1="760.4" y2="753.6"/>
<line x1="620.4" x2="620.4" y1="760.4" y2="753.6"/>
<line x1="630.1" x2="630.1" y1="760.4" y2="753.6"/>
<line x1="639.8" x2="639.8" y1="760.4" y2="749.6999999999999"/>
<line x1="649.5" x2="649.5" y1="760.4" y2="753.6"/>
<line x1="659.1" x2="659.1" y1="760.4" y2="753.6"/>
<line x1="668.8" x2="668.8" y1="760.4" y2="753.6"/>
<line x1="678.5" x2="678.5" y1="760.4" y2="753.6"/>
<line x1="688.2" x2="688.2" y1="760.4" y2="753.6"/>
<line x1="697.8" x2="697.8" y1="760.4" y2="749.6999999999999"/>
<line x1="707.5" x2="707.5" y1="760.4" y2="753.6"/>
<line x1="717.2" x2="717.2" y1="760.4" y2="753.6"/>
<line x1="726.9" x2="726.9" y1="760.4" y2="753.6"/>
<line x1="736.6" x2="736.6" y1="760.4" y2="753.6"/>
<line x1="746.2" x2="746.2" y1="760.4" y2="753.6"/>
<line x1="755.9" x2="755.9" y1="760.4" y2="749.6999999999999"/>
<line x1="765.6" x2="765.6" y1="760.4" y2="753.6"/>
<line x1="775.3" x2="775.3" y1="760.4" y2="753.6"/>
<line x1="784.9" x2="784.9" y1="760.4" y2="753.6"/>
<line x1="794.6" x2="794.6" y1="760.4" y2="753.6"/>
<line x1="804.3" x2="804.3" y1="760.4" y2="753.6"/>
<line x1="814.0" x2="814.0" y1="760.4" y2="749.6999999999999"/>
<line x1="823.7" x2="823.7" y1="760.4" y2="753.6"/>
<line x1="833.3" x2="833.3" y1="760.4" y2="753.6"/>
<line x1="843.0" x2="843.0" y1="760.4" y2="753.6"/>
<line x1="852.7" x2="852.7" y1="760.4" y2="753.6"/>
<line x1="862.4" x2="862.4" y1="760.4" y2="753.6"/>
<line x1="872.0" x2="872.0" y1="760.4" y2="749.6999999999999"/>
<line x1="881.7" x2="881.7" y1="760.4" y2="753.6"/>
<line x1="891.4" x2="891.4" y1="760.4" y2="753.6"/>
<line x1="901.1" x2="901.1" y1="760.4" y2="753.6"/>
<line x1="910.7" x2="910.7" y1="760.4" y2="753.6"/>
<line x1="920.4" x2="920.4" y1="760.4" y2="753.6"/>
<line x1="930.1" x2="930.1" y1="760.4" y2="749.6999999999999"/>
<line x1="939.8" x2="939.8" y1="760.4" y2="753.6"/>
<line x1="949.5" x2="949.5" y1="760.4" y2="753.6"/>
<line x1="959.1" x2="959.1" y1="760.4" y2="753.6"/>
<line x1="968.8" x2="968.8" y1="760.4" y2="753.6"/>
<line x1="978.5" x2="978.5" y1="760.4" y2="753.6"/>
<line x1="988.2" x2="988.2" y1="760.4" y2="749.6999999999999"/>
<line x1="997.8" x2="997.8" y1="760.4" y2="753.6"/>
<line x1="1007.5" x2="1007.5" y1="760.4" y2="753.6"/>
<line x1="1017.2" x2="1017.2" y1="760.4" y2="753.6"/>
<line x1="1026.9" x2="1026.9" y1="760.4" y2="753.6"/>
<line x1="1036.6" x2="1036.6" y1="760.4" y2="753.6"/>
<line x1="1046.2" x2="1046.2" y1="760.4" y2="749.6999999999999"/>
<line x1="1055.9" x2="1055.9" y1="760.4" y2="753.6"/>
<line x1="1065.6" x2="1065.6" y1="760.4" y2="753.6"/>
<line x1="1075.3" x2="1075.3" y1="760.4" y2="753.6"/>
<line x1="1084.9" x2="1084.9" y1="760.4" y2="753.6"/>
<line x1="1094.6" x2="1094.6" y1="760.4" y2="753.6"/>
<line x1="1104.3" x2="1104.3" y1="760.4" y2="749.6999999999999"/>
<line x1="1114.0" x2="1114.0" y1="760.4" y2="753.6"/>
<line x1="1123.7" x2="1123.7" y1="760.4" y2="753.6"/>
<line x1="1133.3" x2="1133.3" y1="760.4" y2="753.6"/>
<line x1="1143.0" x2="1143.0" y1="760.4" y2="753.6"/>
<line x1="1152.7" x2="1152.7" y1="760.4" y2="753.6"/>
<line x1="1162.4" x2="1162.4" y1="760.4" y2="749.6999999999999"/>
<line x1="1172.0" x2="1172.0" y1="760.4" y2="753.6"/>
<line x1="1181.7" x2="1181.7" y1="760.4" y2="753.6"/>
<line x1="1191.4" x2="1191.4" y1="760.4" y2="753.6"/>
<line x1="1201.1" x2="1201.1" y1="760.4" y2="753.6"/>
<line x1="1210.7" x2="1210.7" y1="760.4" y2="753.6"/>
<line x1="1220.4" x2="1220.4" y1="760.4" y2="749.6999999999999"/>
<line x1="1230.1" x2="1230.1" y1="760.4" y2="753.6"/>
<line x1="1239.8" x2="1239.8" y1="760.4" y2="753.6"/>
<line x1="1249.5" x2="1249.5" y1="760.4" y2="753.6"/>
<line x1="1259.1" x2="1259.1" y1="760.4" y2="753.6"/>
<line x1="1268.8" x2="1268.8" y1="760.4" y2="753.6"/>
<line x1="1278.5" x2="1278.5" y1="760.4" y2="749.6999999999999"/>
<line x1="1288.2" x2="1288.2" y1="760.4" y2="753.6"/>
<line x1="1297.8" x2="1297.8" y1="760.4" y2="753.6"/>
<line x1="1307.5" x2="1307.5" y1="760.4" y2="753.6"/>
<line x1="1317.2" x2="1317.2" y1="760.4" y2="753.6"/>
<line x1="1326.9" x2="1326.9" y1="760.4" y2="753.6"/>
<line x1="1336.6" x2="1336.6" y1="760.4" y2="749.6999999999999"/>
<line x1="1346.2" x2="1346.2" y1="760.4" y2="753.6"/>
<line x1="1355.9" x2="1355.9" y1="760.4" y2="753.6"/>
<line x1="1365.6" x2="1365.6" y1="760.4" y2="753.6"/>
<line x1="1375.3" x2="1375.3" y1="760.4" y2="753.6"/>
<line x1="1384.9" x2="1384.9" y1="760.4" y2="753.6"/>
<line x1="1394.6" x2="1394.6" y1="760.4" y2="749.6999999999999"/>
<line x1="1404.3" x2="1404.3" y1="760.4" y2="753.6"/>
<line x1="1414.0" x2="1414.0" y1="760.4" y2="753.6"/>
<line x1="1423.7" x2="1423.7" y1="760.4" y2="753.6"/>
<line x1="1433.3" x2="1433.3" y1="760.4" y2="753.6"/>
<line x1="1443.0" x2="1443.0" y1="760.4" y2="753.6"/>
<line x1="1452.7" x2="1452.7" y1="760.4" y2="749.6999999999999"/>
<line x1="1462.4" x2="1462.4" y1="760.4" y2="753.6"/>
<line x1="1472.0" x2="1472.0" y1="760.4" y2="753.6"/>
<line x1="1481.7" x2="1481.7" y1="760.4" y2="753.6"/>
<line x1="1491.4" x2="1491.4" y1="760.4" y2="753.6"/>
<line x1="1501.1" x2="1501.1" y1="760.4" y2="753.6"/>
<line x1="1510.7" x2="1510.7" y1="760.4" y2="749.6999999999999"/>
<line x1="1520.4" x2="1520.4" y1="760.4" y2="753.6"/>
<line x1="1530.1" x2="1530.1" y1="760.4" y2="753.6"/>
<line x1="1539.8" x2="1539.8" y1="760.4" y2="753.6"/>
<line x1="1549.5" x2="1549.5" y1="760.4" y2="753.6"/>
<line x1="1559.1" x2="1559.1" y1="760.4" y2="753.6"/>
<line x1="1568.8" x2="1568.8" y1="760.4" y2="749.6999999999999"/>
<line x1="1578.5" x2="1578.5" y1="760.4" y2="753.6"/>
<line x1="1588.2" x2="1588.2" y1="760.4" y2="753.6"/>
<line x1="1597.8" x2="1597.8" y1="760.4" y2="753.6"/>
<line x1="1607.5" x2="1607.5" y1="760.4" y2="753.6"/>
<line x1="1617.2" x2="1617.2" y1="760.4" y2="753.6"/>
<line x1="1626.9" x2="1626.9" y1="760.4" y2="749.6999999999999"/>
<line x1="1636.6" x2="1636.6" y1="760.4" y2="753.6"/>
<line x1="1646.2" x2="1646.2" y1="760.4" y2="753.6"/>
<line x1="1655.9" x2="1655.9" y1="760.4" y2="753.6"/>
<line x1="1665.6" x2="1665.6" y1="760.4" y2="753.6"/>
<line x1="1675.3" x2="1675.3" y1="760.4" y2="753.6"/>
<line x1="1684.9" x2="1684.9" y1="760.4" y2="749.6999999999999"/>
<line x1="1694.6" x2="1694.6" y1="760.4" y2="753.6"/>
<line x1="1704.3" x2="1704.3" y1="760.4" y2="753.6"/>
<line x1="1714.0" x2="1714.0" y1="760.4" y2="753.6"/>
<line x1="1723.7" x2="1723.7" y1="760.4" y2="753.6"/>
<line x1="1733.3" x2="1733.3" y1="760.4" y2="753.6"/>
<line x1="1743.0" x2="1743.0" y1="760.4" y2="749.6999999999999"/>
<line x1="1752.7" x2="1752.7" y1="760.4" y2="753.6"/>
<line x1="1762.4" x2="1762.4" y1="760.4" y2="753.6"/>
<line x1="1772.0" x2="1772.0" y1="760.4" y2="753.6"/>
<line x1="1781.7" x2="1781.7" y1="760.4" y2="753.6"/>
<line x1="1791.4" x2="1791.4" y1="760.4" y2="753.6"/>
<line x1="1801.1" x2="1801.1" y1="760.4" y2="749.6999999999999"/>
<line x1="1810.7" x2="1810.7" y1="760.4" y2="753.6"/>
<line x1="1820.4" x2="1820.4" y1="760.4" y2="753.6"/>
<line x1="1830.1" x2="1830.1" y1="760.4" y2="753.6"/>
<line x1="1839.8" x2="1839.8" y1="760.4" y2="753.6"/>
<line x1="1849.5" x2="1849.5" y1="760.4" y2="753.6"/>
<line x1="1859.1" x2="1859.1" y1="760.4" y2="749.6999999999999"/>
<line x1="1868.8" x2="1868.8" y1="760.4" y2="753.6"/>
<line x1="1878.5" x2="1878.5" y1="760.4" y2="753.6"/>
<line x1="1888.2" x2="1888.2" y1="760.4" y2="753.6"/>
<line x1="1897.8" x2="1897.8" y1="760.4" y2="753.6"/>
<line x1="1907.5" x2="1907.5" y1="760.4" y2="753.6"/>
<line x1="1917.2" x2="1917.2" y1="760.4" y2="749.6999999999999"/>
<line x1="117.2" x2="127.9" y1="760.8" y2="760.8"/>
<line x1="117.2" x2="124.0" y1="749.2" y2="749.2"/>
<line x1="117.2" x2="124.0" y1="737.5" y2="737.5"/>
<line x1="117.2" x2="124.0" y1="725.9" y2="725.9"/>
<line x1="117.2" x2="124.0" y1="714.2" y2="714.2"/>
<line x1="117.2" x2="127.9" y1="702.6" y2="702.6"/>
<line x1="117.2" x2="124.0" y1="691.0" y2="691.0"/>
<line x1="117.2" x2="124.0" y1="679.3" y2="679.3"/>
<line x1="117.2" x2="124.0" y1="667.7" y2="667.7"/>
<line x1="117.2" x2="124.0" y1="656.0" y2="656.0"/>
<line x1="117.2" x2="127.9" y1="644.4" y2="644.4"/>
<line x1="117.2" x2="124.0" y1="632.8" y2="632.8"/>
<line x1="117.2" x2="124.0" y1="621.1" y2="621.1"/>
<line x1="117.2" x2="124.0" y1="609.5" y2="609.5"/>
<line x1="117.2" x2="124.0" y1="597.8" y2="597.8"/>
<line x1="117.2" x2="127.9" y1="586.2" y2="586.2"/>
<line x1="117.2" x2="124.0" y1="574.6" y2="574.6"/>
<line x1="117.2" x2="124.0" y1="562.9" y2="562.9"/>
<line x1="117.2" x2="124.0" y1="551.3" y2="551.3"/>
<line x1="117.2" x2="124.0" y1="539.6" y2="539.6"/>
<line x1="117.2" x2="127.9" y1="528.0" y2="528.0"/>
<line x1="117.2" x2="124.0" y1="516.4" y2="516.4"/>
<line x1="117.2" x2="124.0" y1="504.7" y2="504.7"/>
<line x1="117.2" x2="124.0" y1="493.1" y2="493.1"/>
<line x1="117.2" x2="124.0" y1="481.4" y2="481.4"/>
<line x1="117.2" x2="127.9" y1="469.8" y2="469.8"/>
<line x1="117.2" x2="124.0" y1="458.2" y2="458.2"/>
<line x1="117.2" x2="124.0" y1="446.5" y2="446.5"/>
<line x1="117.2" x2="124.0" y1="434.9" y2="434.9"/>
<line x1="117.2" x2="124.0" y1="423.2" y2="423.2"/>
<line x1="117.2" x2="127.9" y1="411.6" y2="411.6"/>
<line x1="117.2" x2="124.0" y1="400.0" y2="400.0"/>
<line x1="117.2" x2="124.0" y1="388.3" y2="388.3"/>
<line x1="117.2" x2="124.0" y1="376.7" y2="376.7"/>
<line x1="117.2" x2="124.0" y1="365.0" y2="365.0"/>
<line x1="117.2" x2="127.9" y1="353.4" y2="353.4"/>
<line x1="117.2" x2="124.0" y1="341.8" y2="341.8"/>
<line x1="117.2" x2="124.0" y1="330.1" y2="330.1"/>
<line x1="117.2" x2="124.0" y1="318.5" y2="318.5"/>
<line x1="117.2" x2="124.0" y1="306.8" y2="306.8"/>
<line x1="117.2" x2="127.9" y1="295.2" y2="295.2"/>
<line x1="117.2" x2="124.0" y1="283.6" y2="283.6"/>
<line x1="117.2" x2="124.0" y1="271.9" y2="271.9"/>
<line x1="117.2" x2="124.0" y1="260.3" y2="260.3"/>
<line x1="117.2" x2="124.0" y1="248.6" y2="248.6"/>
<line x1="117.2" x2="127.9" y1="237.0" y2="237.0"/>
<line x1="117.2" x2="124.0" y1="225.4" y2="225.4"/>
<line x1="117.2" x2="124.0" y1="213.7" y2="213.7"/>
<line x1="117.2" x2="124.0" y1="202.1" y2="202.1"/>
<line x1="117.2" x2="124.0" y1="190.4" y2="190.4"/>
<line x1="117.2" x2="127.9" y1="178.8" y2="178.8"/>
<line x1="117.2" x2="124.0" y1="167.2" y2="167.2"/>
<line x1="117.2" x2="124.0" y1="155.5" y2="155.5"/>
<line x1="117.2" x2="124.0" y1="143.9" y2="143.9"/>
<line x1="117.2" x2="124.0" y1="132.2" y2="132.2"/>
<line x1="117.2" x2="127.9" y1="120.6" y2="120.6"/>
</g>
<g id="ylabels">
<text class="m" transform="translate(102.0,769.7) scale(0.909,1)" text-anchor="end" font-size="22">0</text>
<text class="m" transform="translate(102.0,711.5) scale(0.909,1)" text-anchor="end" font-size="22">5</text>
<text class="m" transform="translate(102.0,653.3) scale(0.909,1)" text-anchor="end" font-size="22">10</text>
<text class="m" transform="translate(102.0,595.1) scale(0.909,1)" text-anchor="end" font-size="22">15</text>
<text class="m" transform="translate(102.0,536.9) scale(0.909,1)" text-anchor="end" font-size="22">20</text>
<text class="m" transform="translate(102.0,478.7) scale(0.909,1)" text-anchor="end" font-size="22">25</text>
<text class="m" transform="translate(102.0,420.5) scale(0.909,1)" text-anchor="end" font-size="22">30</text>
<text class="m" transform="translate(102.0,362.3) scale(0.909,1)" text-anchor="end" font-size="22">35</text>
<text class="m" transform="translate(102.0,304.1) scale(0.909,1)" text-anchor="end" font-size="22">40</text>
<text class="m" transform="translate(102.0,245.9) scale(0.909,1)" text-anchor="end" font-size="22">45</text>
<text class="m" transform="translate(102.0,187.7) scale(0.909,1)" text-anchor="end" font-size="22">50</text>
<text class="m" transform="translate(102.0,129.5) scale(0.909,1)" text-anchor="end" font-size="22">55</text>
</g>
<text class="m" transform="translate(31.7,442.5) rotate(-90) scale(0.93,1)" text-anchor="middle" font-size="22">Temp (F)</text>
<g id="xlabels">
<text class="m" transform="translate(124.0,772.6) rotate(-90) scale(0.909,1)" text-anchor="end" font-size="22">Thu 06 UTC</text>
<text class="m" transform="translate(182.1,772.6) rotate(-90) scale(0.909,1)" text-anchor="end" font-size="22">Thu 12 UTC</text>
<text class="m" transform="translate(240.1,772.6) rotate(-90) scale(0.909,1)" text-anchor="end" font-size="22">Thu 18 UTC</text>
<text class="m" transform="translate(298.2,772.6) rotate(-90) scale(0.909,1)" text-anchor="end" font-size="22">Fri 00 UTC</text>
<text class="m" transform="translate(356.3,772.6) rotate(-90) scale(0.909,1)" text-anchor="end" font-size="22">Fri 06 UTC</text>
<text class="m" transform="translate(414.3,772.6) rotate(-90) scale(0.909,1)" text-anchor="end" font-size="22">Fri 12 UTC</text>
<text class="m" transform="translate(472.4,772.6) rotate(-90) scale(0.909,1)" text-anchor="end" font-size="22">Fri 18 UTC</text>
<text class="m" transform="translate(530.5,772.6) rotate(-90) scale(0.909,1)" text-anchor="end" font-size="22">Sat 00 UTC</text>
<text class="m" transform="translate(588.5,772.6) rotate(-90) scale(0.909,1)" text-anchor="end" font-size="22">Sat 06 UTC</text>
<text class="m" transform="translate(646.6,772.6) rotate(-90) scale(0.909,1)" text-anchor="end" font-size="22">Sat 12 UTC</text>
<text class="m" transform="translate(704.6,772.6) rotate(-90) scale(0.909,1)" text-anchor="end" font-size="22">Sat 18 UTC</text>
<text class="m" transform="translate(762.7,772.6) rotate(-90) scale(0.909,1)" text-anchor="end" font-size="22">Sun 00 UTC</text>
<text class="m" transform="translate(820.8,772.6) rotate(-90) scale(0.909,1)" text-anchor="end" font-size="22">Sun 06 UTC</text>
<text class="m" transform="translate(878.8,772.6) rotate(-90) scale(0.909,1)" text-anchor="end" font-size="22">Sun 12 UTC</text>
<text class="m" transform="translate(936.9,772.6) rotate(-90) scale(0.909,1)" text-anchor="end" font-size="22">Sun 18 UTC</text>
<text class="m" transform="translate(995.0,772.6) rotate(-90) scale(0.909,1)" text-anchor="end" font-size="22">Mon 00 UTC</text>
<text class="m" transform="translate(1053.0,772.6) rotate(-90) scale(0.909,1)" text-anchor="end" font-size="22">Mon 06 UTC</text>
<text class="m" transform="translate(1111.1,772.6) rotate(-90) scale(0.909,1)" text-anchor="end" font-size="22">Mon 12 UTC</text>
<text class="m" transform="translate(1169.2,772.6) rotate(-90) scale(0.909,1)" text-anchor="end" font-size="22">Mon 18 UTC</text>
<text class="m" transform="translate(1227.2,772.6) rotate(-90) scale(0.909,1)" text-anchor="end" font-size="22">Tue 00 UTC</text>
<text class="m" transform="translate(1285.3,772.6) rotate(-90) scale(0.909,1)" text-anchor="end" font-size="22">Tue 06 UTC</text>
<text class="m" transform="translate(1343.4,772.6) rotate(-90) scale(0.909,1)" text-anchor="end" font-size="22">Tue 12 UTC</text>
<text class="m" transform="translate(1401.4,772.6) rotate(-90) scale(0.909,1)" text-anchor="end" font-size="22">Tue 18 UTC</text>
<text class="m" transform="translate(1459.5,772.6) rotate(-90) scale(0.909,1)" text-anchor="end" font-size="22">Wed 00 UTC</text>
<text class="m" transform="translate(1517.5,772.6) rotate(-90) scale(0.909,1)" text-anchor="end" font-size="22">Wed 06 UTC</text>
<text class="m" transform="translate(1575.6,772.6) rotate(-90) scale(0.909,1)" text-anchor="end" font-size="22">Wed 12 UTC</text>
<text class="m" transform="translate(1633.7,772.6) rotate(-90) scale(0.909,1)" text-anchor="end" font-size="22">Wed 18 UTC</text>
<text class="m" transform="translate(1691.7,772.6) rotate(-90) scale(0.909,1)" text-anchor="end" font-size="22">Thu 00 UTC</text>
<text class="m" transform="translate(1749.8,772.6) rotate(-90) scale(0.909,1)" text-anchor="end" font-size="22">Thu 06 UTC</text>
<text class="m" transform="translate(1807.9,772.6) rotate(-90) scale(0.909,1)" text-anchor="end" font-size="22">Thu 12 UTC</text>
<text class="m" transform="translate(1865.9,772.6) rotate(-90) scale(0.909,1)" text-anchor="end" font-size="22">Thu 18 UTC</text>
<text class="m" transform="translate(1924.0,772.6) rotate(-90) scale(0.909,1)" text-anchor="end" font-size="22">Fri 00 UTC</text>
</g>
<g id="header">
<text class="m" transform="translate(408.5,64.0) scale(0.909,1)" text-anchor="end" font-size="22">Start: 2014-01-02 06:00:00 UTC</text>
<text class="m" transform="translate(408.5,84.1) scale(0.909,1)" text-anchor="end" font-size="22">End: 2014-01-10 00:00:00 UTC</text>
<text class="m" transform="translate(408.5,104.3) scale(0.909,1)" text-anchor="end" font-size="22">Generated: 2014-01-02 20:48:16 UTC</text>
</g>
<text class="m" transform="translate(790.3,78.2) scale(1.093,1)" text-anchor="start" font-size="27.4" stroke="#1c1c1c" stroke-width="0.9">KBHM - Hourly Temperature Forecast</text>
<g id="legend">
<rect x="1925" y="121" width="212.5" height="437.5" fill="#d3d3d3" stroke="#222" stroke-width="2"/>
<line x1="1934" x2="1968" y1="141.8" y2="141.8" stroke="#ff0000" stroke-width="4.4"/>
<text class="m" transform="translate(1983.0,147.8) scale(0.909,1)" text-anchor="start" font-size="22">12z NAM</text>
<line x1="1934" x2="1968" y1="177.8" y2="177.8" stroke="#8b0000" stroke-width="4.4"/>
<text class="m" transform="translate(1983.0,183.8) scale(0.909,1)" text-anchor="start" font-size="22">06z NAM</text>
<line x1="1934" x2="1968" y1="213.8" y2="213.8" stroke="#808080" stroke-width="4.4"/>
<text class="m" transform="translate(1983.0,219.8) scale(0.909,1)" text-anchor="start" font-size="22">18z NAM 4km</text>
<line x1="1934" x2="1968" y1="249.8" y2="249.8" stroke="#0000ff" stroke-width="4.4"/>
<text class="m" transform="translate(1983.0,255.8) scale(0.909,1)" text-anchor="start" font-size="22">12z GFS</text>
<line x1="1934" x2="1968" y1="285.8" y2="285.8" stroke="#00008b" stroke-width="4.4"/>
<text class="m" transform="translate(1983.0,291.8) scale(0.909,1)" text-anchor="start" font-size="22">06z GFS</text>
<line x1="1934" x2="1968" y1="321.8" y2="321.8" stroke="#ffa500" stroke-width="4.4"/>
<text class="m" transform="translate(1983.0,327.8) scale(0.909,1)" text-anchor="start" font-size="22">12z NAM MOS</text>
<line x1="1934" x2="1968" y1="357.8" y2="357.8" stroke="#a020f0" stroke-width="4.4"/>
<text class="m" transform="translate(1983.0,363.8) scale(0.909,1)" text-anchor="start" font-size="22">12z GFS MOS</text>
<line x1="1934" x2="1968" y1="393.8" y2="393.8" stroke="#ffff00" stroke-width="4.4"/>
<text class="m" transform="translate(1983.0,399.8) scale(0.909,1)" text-anchor="start" font-size="22">06z GFS MOS</text>
<line x1="1934" x2="1968" y1="429.8" y2="429.8" stroke="#00ff00" stroke-width="4.4"/>
<text class="m" transform="translate(1983.0,435.8) scale(0.909,1)" text-anchor="start" font-size="22">19z RAP</text>
<line x1="1934" x2="1968" y1="465.8" y2="465.8" stroke="#fff" stroke-width="1.5"/><rect x="1943" y="457.8" width="16" height="16" fill="#fff" stroke="#111" stroke-width="2"/>
<text class="m" transform="translate(1983.0,471.8) scale(0.909,1)" text-anchor="start" font-size="22">Model Avg.</text>
<line x1="1934" x2="1968" y1="501.8" y2="501.8" stroke="#006400" stroke-width="1.5"/><rect x="1943" y="493.8" width="16" height="16" fill="#006400" stroke="#111" stroke-width="2"/>
<text class="m" transform="translate(1983.0,507.8) scale(0.909,1)" text-anchor="start" font-size="22">NWS</text>
<circle cx="1951" cy="537.8" r="9.5" fill="#000"/>
<text class="m" transform="translate(1983.0,543.8) scale(0.909,1)" text-anchor="start" font-size="22">OBS - KBHM</text>
</g>
<line id="tenline" x1="142" x2="1917.2" y1="644.8" y2="644.8" stroke="#fff" stroke-width="7.8" stroke-linecap="round"/>
<rect x="1911.2" y="640.9" width="12" height="7.8" fill="#fff"/>
<path id="arrow" filter="url(#sh2)" fill="#fff" d="M1365.2 667 L1429.2 682.3 L1416.7 691.5 L1545.8 812.6 A1.8 1.8 0 0 1 1543.4 815.4 L1399.1 712.9 L1393 727.7 Z"/>
<text class="ann" filter="url(#sh)" x="809.3" y="664.9" font-size="71.3" stroke-width="13.4" letter-spacing="1.5">10°</text>
<text class="ann" filter="url(#sh)" x="1314.8" y="865.4" font-size="57.4" stroke-width="11.2">Tuesday Morning</text>
</svg></body></html>
